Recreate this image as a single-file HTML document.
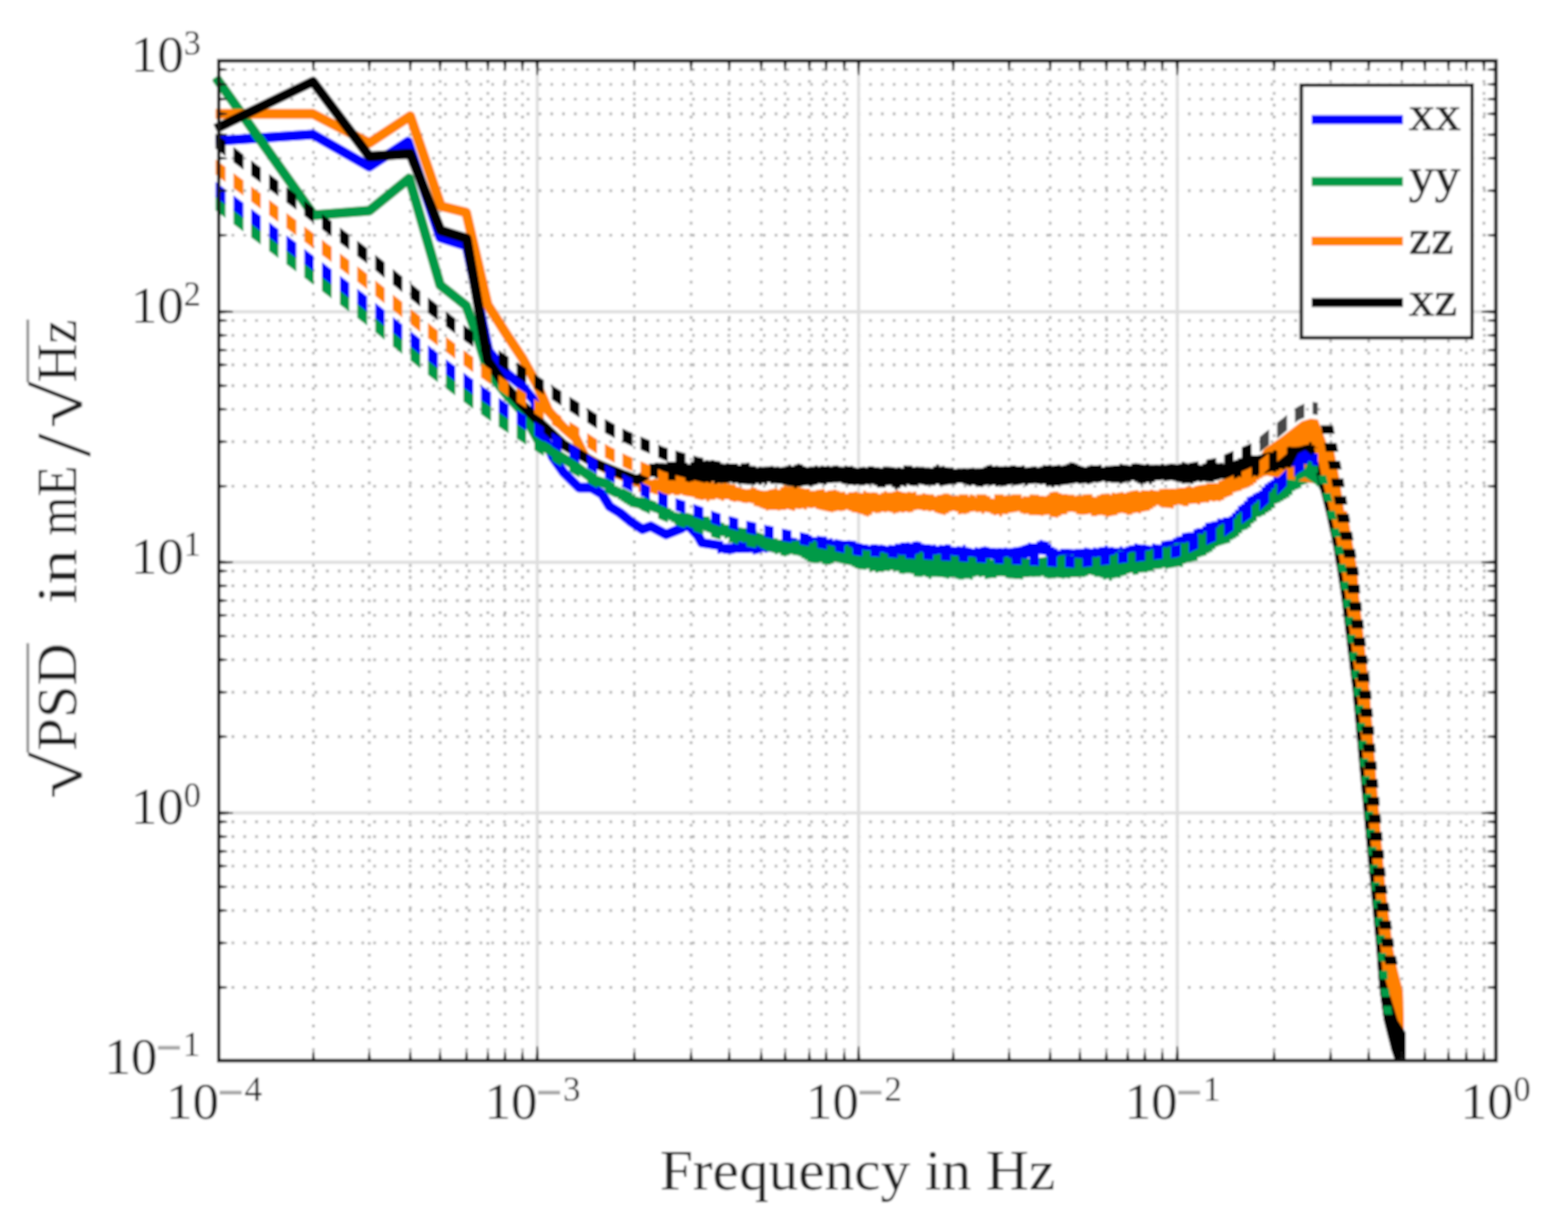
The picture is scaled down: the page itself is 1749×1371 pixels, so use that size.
<!DOCTYPE html>
<html lang="en">
<head>
<meta charset="utf-8">
<title>PSD plot</title>
<style>
html,body{margin:0;padding:0;background:#fff;}
body{width:1749px;height:1371px;overflow:hidden;font-family:"Liberation Serif",serif;}
svg{display:block;}
</style>
</head>
<body>
<svg width="1749" height="1371" viewBox="0 0 1749 1371">
<defs><filter id="bl" x="0" y="0" width="1749" height="1371" filterUnits="userSpaceOnUse"><feGaussianBlur stdDeviation="0.95"/></filter></defs>
<rect width="1749" height="1371" fill="#fff"/>
<g filter="url(#bl)">
<rect width="1749" height="1371" fill="#fff"/>
<g stroke="#aaaaaa" stroke-width="2.9" stroke-dasharray="2.9 10.27" fill="none">
<path d="M349.6 76.3V1183.2M411.9 76.3V1183.2M457.7 76.3V1183.2M490.9 76.3V1183.2M520.4 76.3V1183.2M544.2 76.3V1183.2M563.3 76.3V1183.2M582.8 76.3V1183.2M707.6 76.3V1183.2M770.9 76.3V1183.2M813.4 76.3V1183.2M849.1 76.3V1183.2M875.8 76.3V1183.2M902.8 76.3V1183.2M921.5 76.3V1183.2M941.8 76.3V1183.2M1063.3 76.3V1183.2M1125.6 76.3V1183.2M1171.4 76.3V1183.2M1204.6 76.3V1183.2M1234.1 76.3V1183.2M1257.9 76.3V1183.2M1277.0 76.3V1183.2M1296.5 76.3V1183.2M1421.2 76.3V1183.2M1484.2 76.3V1183.2M1526.7 76.3V1183.2M1563.7 76.3V1183.2M1589.3 76.3V1183.2M1615.7 76.3V1183.2M1635.6 76.3V1183.2M1655.2 76.3V1183.2"/>
<path d="M245.2 262.4H1668.6M245.2 212.8H1668.6M245.2 176.6H1668.6M245.2 150.2H1668.6M245.2 127.0H1668.6M245.2 110.6H1668.6M245.2 94.1H1668.6M245.2 77.6H1668.6M245.2 542.4H1668.6M245.2 492.8H1668.6M245.2 456.6H1668.6M245.2 430.2H1668.6M245.2 407.0H1668.6M245.2 390.6H1668.6M245.2 374.1H1668.6M245.2 357.6H1668.6M245.2 821.8H1668.6M245.2 772.2H1668.6M245.2 736.0H1668.6M245.2 709.6H1668.6M245.2 686.4H1668.6M245.2 670.0H1668.6M245.2 653.5H1668.6M245.2 637.0H1668.6M245.2 1101.5H1668.6M245.2 1051.9H1668.6M245.2 1015.7H1668.6M245.2 989.3H1668.6M245.2 966.1H1668.6M245.2 949.7H1668.6M245.2 933.2H1668.6M245.2 916.7H1668.6"/>
</g>
<path d="M599.3 67.8V1183.2M957.7 67.8V1183.2M1313.2 67.8V1183.2M244.0 347.8H1668.6M244.0 627.2H1668.6M244.0 906.9H1668.6" stroke="#dedede" stroke-width="3.4" fill="none"/>
<clipPath id="clip"><rect x="237.0" y="67.8" width="1431.6" height="1116.4"/></clipPath>
<g clip-path="url(#clip)">
<path d="M240.5 157.2L349.0 150.0L412.0 186.0L455.0 158.0L491.0 265.0L520.4 274.4L545.0 391.5L565.8 417.0L583.0 431.0L596.6 448.0L602.9 477.0L616.6 509.8L628.6 527.0L645.8 544.0L659.5 544.0L671.5 551.0L680.0 565.0L691.5 572.0L703.0 581.4L716.7 590.6L725.8 587.0L743.0 596.3L760.0 589.4L767.0 585.0L778.5 597.5L783.0 605.5L806.0 609.0" fill="none" stroke="#0000ff" stroke-width="10.8" stroke-linejoin="round"/>
<path d="M800.0 605.9L803.3 605.9L803.3 605.7L806.6 605.7L806.6 606.6L809.9 606.6L809.9 606.4L813.2 606.4L813.2 606.5L816.5 606.5L816.5 605.0L819.8 605.0L819.8 603.5L823.1 603.5L823.1 603.8L826.4 603.8L826.4 604.2L829.7 604.2L829.7 604.4L833.0 604.4L833.0 604.5L836.3 604.5L836.3 604.1L839.6 604.1L839.6 603.7L842.9 603.7L842.9 604.2L846.2 604.2L846.2 605.2L849.5 605.2L849.5 606.2L852.8 606.2L852.8 604.5L856.1 604.5L856.1 603.6L859.4 603.6L859.4 603.3L862.7 603.3L862.7 602.5L866.0 602.5L866.0 602.4L869.3 602.4L869.3 602.1L872.6 602.1L872.6 602.6L875.9 602.6L875.9 601.3L879.2 601.3L879.2 599.8L882.5 599.8L882.5 599.8L885.8 599.8L885.8 599.9L889.1 599.9L889.1 601.7L892.4 601.7L892.4 600.1L895.7 600.1L895.7 599.2L899.0 599.2L899.0 596.3L902.3 596.3L902.3 597.1L905.6 597.1L905.6 598.9L908.9 598.9L908.9 599.1L912.2 599.1L912.2 599.6L915.5 599.6L915.5 599.4L918.8 599.4L918.8 598.4L922.1 598.4L922.1 601.2L925.4 601.2L925.4 600.6L928.7 600.6L928.7 602.4L932.0 602.4L932.0 603.1L935.3 603.1L935.3 604.2L938.6 604.2L938.6 603.7L941.9 603.7L941.9 603.1L945.2 603.1L945.2 602.8L948.5 602.8L948.5 603.1L951.8 603.1L951.8 603.5L955.1 603.5L955.1 605.5L958.4 605.5L958.4 605.9L961.7 605.9L961.7 607.0L965.0 607.0L965.0 607.3L968.3 607.3L968.3 608.6L971.6 608.6L971.6 607.6L974.9 607.6L974.9 606.9L978.2 606.9L978.2 608.4L981.5 608.4L981.5 607.5L984.8 607.5L984.8 607.9L988.1 607.9L988.1 608.9L991.4 608.9L991.4 607.8L994.7 607.8L994.7 608.0L998.0 608.0L998.0 606.6L1001.3 606.6L1001.3 606.6L1004.6 606.6L1004.6 605.1L1007.9 605.1L1007.9 605.2L1011.2 605.2L1011.2 604.8L1014.5 604.8L1014.5 605.8L1017.8 605.8L1017.8 603.9L1021.1 603.9L1021.1 603.7L1024.4 603.7L1024.4 604.4L1027.7 604.4L1027.7 606.5L1031.0 606.5L1031.0 607.1L1034.3 607.1L1034.3 607.0L1037.6 607.0L1037.6 607.7L1040.9 607.7L1040.9 607.4L1044.2 607.4L1044.2 609.0L1047.5 609.0L1047.5 607.8L1050.8 607.8L1050.8 608.0L1054.1 608.0L1054.1 607.1L1057.4 607.1L1057.4 607.5L1060.7 607.5L1060.7 609.7L1064.0 609.7L1064.0 609.9L1067.3 609.9L1067.3 609.2L1070.6 609.2L1070.6 609.7L1073.9 609.7L1073.9 607.8L1077.2 607.8L1077.2 610.6L1080.5 610.6L1080.5 611.1L1083.8 611.1L1083.8 612.1L1087.1 612.1L1087.1 610.5L1090.4 610.5L1090.4 611.2L1093.7 611.2L1093.7 610.0L1097.0 610.0L1097.0 609.5L1100.3 609.5L1100.3 610.3L1103.6 610.3L1103.6 611.3L1106.9 611.3L1106.9 611.3L1110.2 611.3L1110.2 611.6L1113.5 611.6L1113.5 611.0L1116.8 611.0L1116.8 611.4L1120.1 611.4L1120.1 610.8L1123.4 610.8L1123.4 611.5L1126.7 611.5L1126.7 611.2L1130.0 611.2L1130.0 610.6L1133.3 610.6L1133.3 610.3L1136.6 610.3L1136.6 609.6L1139.9 609.6L1139.9 608.3L1143.2 608.3L1143.2 607.3L1146.5 607.3L1146.5 605.4L1149.8 605.4L1149.8 606.0L1153.1 606.0L1153.1 606.0L1156.4 606.0L1156.4 603.7L1159.7 603.7L1159.7 602.2L1163.0 602.2L1163.0 603.5L1166.3 603.5L1166.3 604.0L1169.6 604.0L1169.6 606.7L1172.9 606.7L1172.9 610.0L1176.2 610.0L1176.2 611.8L1179.5 611.8L1179.5 613.7L1182.8 613.7L1182.8 612.1L1186.1 612.1L1186.1 612.3L1189.4 612.3L1189.4 612.0L1192.7 612.0L1192.7 612.4L1196.0 612.4L1196.0 612.8L1199.3 612.8L1199.3 612.2L1202.6 612.2L1202.6 612.3L1205.9 612.3L1205.9 611.9L1209.2 611.9L1209.2 610.8L1212.5 610.8L1212.5 611.6L1215.8 611.6L1215.8 611.9L1219.1 611.9L1219.1 610.7L1222.4 610.7L1222.4 611.4L1225.7 611.4L1225.7 610.3L1229.0 610.3L1229.0 610.0L1232.3 610.0L1232.3 608.4L1235.6 608.4L1235.6 610.6L1238.9 610.6L1238.9 610.1L1242.2 610.1L1242.2 610.9L1245.5 610.9L1245.5 611.0L1248.8 611.0L1248.8 609.6L1252.1 609.6L1252.1 611.0L1255.4 611.0L1255.4 609.8L1258.7 609.8L1258.7 608.4L1262.0 608.4L1262.0 608.2L1265.3 608.2L1265.3 606.1L1268.6 606.1L1268.6 607.0L1271.9 607.0L1271.9 607.6L1275.2 607.6L1275.2 607.3L1278.5 607.3L1278.5 608.3L1281.8 608.3L1281.8 608.7L1285.1 608.7L1285.1 606.3L1288.4 606.3L1288.4 607.2L1291.7 607.2L1291.7 607.5L1295.0 607.5L1295.0 604.5L1298.3 604.5L1298.3 603.3L1301.6 603.3L1301.6 602.8L1304.9 602.8L1304.9 602.4L1308.2 602.4L1308.2 600.6L1311.5 600.6L1311.5 598.7L1314.8 598.7L1314.8 597.9L1318.1 597.9L1318.1 594.8L1321.4 594.8L1321.4 594.3L1324.7 594.3L1324.7 593.8L1328.0 593.8L1328.0 593.8L1331.3 593.8L1331.3 590.5L1334.6 590.5L1334.6 589.1L1337.9 589.1L1337.9 589.2L1341.2 589.2L1341.2 586.7L1344.5 586.7L1344.5 583.1L1347.8 583.1L1347.8 582.7L1351.1 582.7L1351.1 581.7L1354.4 581.7L1354.4 581.4L1357.7 581.4L1357.7 578.4L1361.0 578.4L1361.0 578.7L1364.3 578.7L1364.3 577.0L1367.6 577.0L1367.6 576.9L1370.9 576.9L1370.9 575.6L1374.2 575.6L1374.2 572.0L1377.5 572.0L1377.5 568.7L1380.8 568.7L1380.8 564.3L1384.1 564.3L1384.1 562.1L1387.4 562.1L1387.4 558.8L1390.7 558.8L1390.7 554.6L1394.0 554.6L1394.0 553.1L1397.3 553.1L1397.3 550.7L1400.6 550.7L1400.6 548.9L1403.9 548.9L1403.9 547.3L1407.2 547.3L1407.2 543.3L1410.5 543.3L1410.5 539.8L1413.8 539.8L1413.8 537.4L1417.1 537.4L1417.1 535.5L1420.4 535.5L1420.4 531.5L1423.7 531.5L1423.7 529.8L1427.0 529.8L1427.0 526.9L1430.3 526.9L1430.3 525.8L1433.6 525.8L1433.6 520.8L1436.9 520.8L1436.9 516.0L1440.2 516.0L1440.2 513.3L1443.5 513.3L1443.5 510.2L1446.8 510.2L1446.8 508.1L1450.1 508.1L1450.1 504.6L1453.4 504.6L1453.4 501.5L1456.7 501.5L1456.7 503.9L1460.0 503.9L1460.0 505.5L1463.3 505.5L1463.3 506.1L1466.6 506.1L1466.6 506.3L1469.9 506.3L1469.9 507.3L1470.0 507.3L1470.0 523.6L1469.9 523.6L1469.9 522.8L1466.6 522.8L1466.6 523.2L1463.3 523.2L1463.3 522.4L1460.0 522.4L1460.0 520.9L1456.7 520.9L1456.7 519.1L1453.4 519.1L1453.4 521.4L1450.1 521.4L1450.1 525.3L1446.8 525.3L1446.8 526.7L1443.5 526.7L1443.5 531.2L1440.2 531.2L1440.2 534.1L1436.9 534.1L1436.9 537.4L1433.6 537.4L1433.6 541.0L1430.3 541.0L1430.3 543.2L1427.0 543.2L1427.0 546.8L1423.7 546.8L1423.7 549.9L1420.4 549.9L1420.4 552.5L1417.1 552.5L1417.1 555.7L1413.8 555.7L1413.8 558.2L1410.5 558.2L1410.5 560.1L1407.2 560.1L1407.2 561.9L1403.9 561.9L1403.9 564.9L1400.6 564.9L1400.6 569.4L1397.3 569.4L1397.3 571.5L1394.0 571.5L1394.0 574.7L1390.7 574.7L1390.7 575.4L1387.4 575.4L1387.4 577.2L1384.1 577.2L1384.1 581.0L1380.8 581.0L1380.8 581.9L1377.5 581.9L1377.5 582.4L1374.2 582.4L1374.2 585.8L1370.9 585.8L1370.9 586.7L1367.6 586.7L1367.6 589.7L1364.3 589.7L1364.3 592.2L1361.0 592.2L1361.0 594.5L1357.7 594.5L1357.7 595.5L1354.4 595.5L1354.4 596.7L1351.1 596.7L1351.1 598.4L1347.8 598.4L1347.8 599.2L1344.5 599.2L1344.5 601.9L1341.2 601.9L1341.2 604.3L1337.9 604.3L1337.9 606.3L1334.6 606.3L1334.6 607.9L1331.3 607.9L1331.3 609.6L1328.0 609.6L1328.0 611.0L1324.7 611.0L1324.7 613.7L1321.4 613.7L1321.4 613.3L1318.1 613.3L1318.1 612.7L1314.8 612.7L1314.8 613.5L1311.5 613.5L1311.5 614.4L1308.2 614.4L1308.2 614.9L1304.9 614.9L1304.9 615.1L1301.6 615.1L1301.6 615.9L1298.3 615.9L1298.3 617.6L1295.0 617.6L1295.0 619.2L1291.7 619.2L1291.7 619.0L1288.4 619.0L1288.4 621.3L1285.1 621.3L1285.1 623.2L1281.8 623.2L1281.8 624.8L1278.5 624.8L1278.5 625.1L1275.2 625.1L1275.2 624.0L1271.9 624.0L1271.9 623.5L1268.6 623.5L1268.6 623.7L1265.3 623.7L1265.3 623.2L1262.0 623.2L1262.0 622.7L1258.7 622.7L1258.7 622.8L1255.4 622.8L1255.4 623.7L1252.1 623.7L1252.1 623.5L1248.8 623.5L1248.8 624.9L1245.5 624.9L1245.5 625.8L1242.2 625.8L1242.2 625.7L1238.9 625.7L1238.9 627.4L1235.6 627.4L1235.6 627.2L1232.3 627.2L1232.3 627.7L1229.0 627.7L1229.0 626.5L1225.7 626.5L1225.7 628.0L1222.4 628.0L1222.4 627.1L1219.1 627.1L1219.1 627.5L1215.8 627.5L1215.8 626.2L1212.5 626.2L1212.5 627.7L1209.2 627.7L1209.2 627.1L1205.9 627.1L1205.9 627.5L1202.6 627.5L1202.6 628.0L1199.3 628.0L1199.3 628.9L1196.0 628.9L1196.0 628.0L1192.7 628.0L1192.7 626.9L1189.4 626.9L1189.4 625.5L1186.1 625.5L1186.1 623.2L1182.8 623.2L1182.8 623.4L1179.5 623.4L1179.5 623.0L1176.2 623.0L1176.2 622.6L1172.9 622.6L1172.9 622.8L1169.6 622.8L1169.6 620.8L1166.3 620.8L1166.3 618.9L1163.0 618.9L1163.0 618.5L1159.7 618.5L1159.7 618.2L1156.4 618.2L1156.4 621.0L1153.1 621.0L1153.1 621.7L1149.8 621.7L1149.8 621.7L1146.5 621.7L1146.5 623.8L1143.2 623.8L1143.2 624.9L1139.9 624.9L1139.9 624.5L1136.6 624.5L1136.6 625.2L1133.3 625.2L1133.3 627.0L1130.0 627.0L1130.0 625.3L1126.7 625.3L1126.7 625.7L1123.4 625.7L1123.4 627.0L1120.1 627.0L1120.1 626.9L1116.8 626.9L1116.8 624.3L1113.5 624.3L1113.5 625.0L1110.2 625.0L1110.2 624.8L1106.9 624.8L1106.9 623.4L1103.6 623.4L1103.6 624.2L1100.3 624.2L1100.3 623.6L1097.0 623.6L1097.0 626.0L1093.7 626.0L1093.7 627.2L1090.4 627.2L1090.4 627.3L1087.1 627.3L1087.1 628.3L1083.8 628.3L1083.8 627.7L1080.5 627.7L1080.5 628.6L1077.2 628.6L1077.2 629.6L1073.9 629.6L1073.9 627.0L1070.6 627.0L1070.6 628.2L1067.3 628.2L1067.3 630.3L1064.0 630.3L1064.0 627.0L1060.7 627.0L1060.7 626.9L1057.4 626.9L1057.4 626.6L1054.1 626.6L1054.1 624.6L1050.8 624.6L1050.8 623.5L1047.5 623.5L1047.5 623.8L1044.2 623.8L1044.2 624.4L1040.9 624.4L1040.9 624.4L1037.6 624.4L1037.6 625.3L1034.3 625.3L1034.3 624.8L1031.0 624.8L1031.0 625.5L1027.7 625.5L1027.7 626.5L1024.4 626.5L1024.4 625.5L1021.1 625.5L1021.1 625.0L1017.8 625.0L1017.8 626.0L1014.5 626.0L1014.5 624.8L1011.2 624.8L1011.2 624.7L1007.9 624.7L1007.9 623.6L1004.6 623.6L1004.6 626.3L1001.3 626.3L1001.3 625.5L998.0 625.5L998.0 624.7L994.7 624.7L994.7 622.4L991.4 622.4L991.4 622.6L988.1 622.6L988.1 623.2L984.8 623.2L984.8 624.9L981.5 624.9L981.5 625.5L978.2 625.5L978.2 624.9L974.9 624.9L974.9 625.3L971.6 625.3L971.6 623.8L968.3 623.8L968.3 622.6L965.0 622.6L965.0 623.5L961.7 623.5L961.7 621.1L958.4 621.1L958.4 621.7L955.1 621.7L955.1 620.3L951.8 620.3L951.8 619.6L948.5 619.6L948.5 621.5L945.2 621.5L945.2 622.3L941.9 622.3L941.9 622.5L938.6 622.5L938.6 623.8L935.3 623.8L935.3 622.7L932.0 622.7L932.0 621.9L928.7 621.9L928.7 623.4L925.4 623.4L925.4 622.0L922.1 622.0L922.1 619.7L918.8 619.7L918.8 617.7L915.5 617.7L915.5 619.6L912.2 619.6L912.2 619.6L908.9 619.6L908.9 617.5L905.6 617.5L905.6 617.1L902.3 617.1L902.3 616.2L899.0 616.2L899.0 615.8L895.7 615.8L895.7 616.5L892.4 616.5L892.4 616.9L889.1 616.9L889.1 615.7L885.8 615.7L885.8 615.7L882.5 615.7L882.5 616.1L879.2 616.1L879.2 615.7L875.9 615.7L875.9 617.3L872.6 617.3L872.6 616.3L869.3 616.3L869.3 615.6L866.0 615.6L866.0 616.3L862.7 616.3L862.7 615.5L859.4 615.5L859.4 615.6L856.1 615.6L856.1 616.4L852.8 616.4L852.8 615.6L849.5 615.6L849.5 616.7L846.2 616.7L846.2 618.1L842.9 618.1L842.9 618.4L839.6 618.4L839.6 616.5L836.3 616.5L836.3 616.8L833.0 616.8L833.0 616.8L829.7 616.8L829.7 616.8L826.4 616.8L826.4 616.9L823.1 616.9L823.1 616.7L819.8 616.7L819.8 617.5L816.5 617.5L816.5 618.3L813.2 618.3L813.2 617.9L809.9 617.9L809.9 617.7L806.6 617.7L806.6 616.8L803.3 616.8L803.3 617.4L800.0 617.4Z" fill="#0000ff"/>
<path d="M240.5 86.1L350.0 240.0L412.0 235.0L456.4 199.0L491.0 318.0L520.0 341.0L532.0 374.0L540.0 400.0L545.0 415.0L565.0 440.0L583.0 460.0L603.0 496.0L620.0 506.0L642.3 520.0L663.0 535.5L680.0 541.0" fill="none" stroke="#009a46" stroke-width="10.8" stroke-linejoin="round"/>
<path d="M676.0 536.6L679.3 536.6L679.3 537.6L682.6 537.6L682.6 539.7L685.9 539.7L685.9 542.3L689.2 542.3L689.2 543.8L692.5 543.8L692.5 545.6L695.8 545.6L695.8 548.5L699.1 548.5L699.1 550.9L702.4 550.9L702.4 552.1L705.7 552.1L705.7 552.5L709.0 552.5L709.0 553.9L712.3 553.9L712.3 554.9L715.6 554.9L715.6 555.3L718.9 555.3L718.9 555.0L722.2 555.0L722.2 555.9L725.5 555.9L725.5 557.9L728.8 557.9L728.8 559.3L732.1 559.3L732.1 561.3L735.4 561.3L735.4 563.1L738.7 563.1L738.7 565.0L742.0 565.0L742.0 565.6L745.3 565.6L745.3 567.2L748.6 567.2L748.6 569.6L751.9 569.6L751.9 571.6L755.2 571.6L755.2 572.5L758.5 572.5L758.5 571.7L761.8 571.7L761.8 572.5L765.1 572.5L765.1 572.2L768.4 572.2L768.4 573.1L771.7 573.1L771.7 574.3L775.0 574.3L775.0 575.1L778.3 575.1L778.3 575.3L781.6 575.3L781.6 575.8L784.9 575.8L784.9 576.0L788.2 576.0L788.2 576.2L791.5 576.2L791.5 579.3L794.8 579.3L794.8 579.7L798.1 579.7L798.1 581.4L801.4 581.4L801.4 582.5L804.7 582.5L804.7 583.3L808.0 583.3L808.0 585.3L811.3 585.3L811.3 585.5L814.6 585.5L814.6 586.4L817.9 586.4L817.9 587.2L821.2 587.2L821.2 588.3L824.5 588.3L824.5 588.4L827.8 588.4L827.8 589.1L831.1 589.1L831.1 589.2L834.4 589.2L834.4 588.3L837.7 588.3L837.7 590.3L841.0 590.3L841.0 591.5L844.3 591.5L844.3 594.1L847.6 594.1L847.6 594.9L850.9 594.9L850.9 596.6L854.2 596.6L854.2 596.8L857.5 596.8L857.5 599.0L860.8 599.0L860.8 600.4L864.1 600.4L864.1 600.6L867.4 600.6L867.4 602.1L870.7 602.1L870.7 602.5L874.0 602.5L874.0 604.3L877.3 604.3L877.3 602.9L880.6 602.9L880.6 602.9L883.9 602.9L883.9 603.5L887.2 603.5L887.2 603.1L890.5 603.1L890.5 603.5L893.8 603.5L893.8 605.7L897.1 605.7L897.1 605.9L900.4 605.9L900.4 605.3L903.7 605.3L903.7 605.2L907.0 605.2L907.0 602.9L910.3 602.9L910.3 605.1L913.6 605.1L913.6 604.9L916.9 604.9L916.9 607.0L920.2 607.0L920.2 607.2L923.5 607.2L923.5 608.3L926.8 608.3L926.8 608.9L930.1 608.9L930.1 609.5L933.4 609.5L933.4 606.9L936.7 606.9L936.7 607.7L940.0 607.7L940.0 608.9L943.3 608.9L943.3 608.1L946.6 608.1L946.6 610.3L949.9 610.3L949.9 611.4L953.2 611.4L953.2 612.1L956.5 612.1L956.5 612.7L959.8 612.7L959.8 612.8L963.1 612.8L963.1 613.8L966.4 613.8L966.4 613.9L969.7 613.9L969.7 613.7L973.0 613.7L973.0 613.5L976.3 613.5L976.3 612.8L979.6 612.8L979.6 616.2L982.9 616.2L982.9 616.0L986.2 616.0L986.2 617.3L989.5 617.3L989.5 617.9L992.8 617.9L992.8 616.7L996.1 616.7L996.1 616.7L999.4 616.7L999.4 618.0L1002.7 618.0L1002.7 619.3L1006.0 619.3L1006.0 619.2L1009.3 619.2L1009.3 619.1L1012.6 619.1L1012.6 618.5L1015.9 618.5L1015.9 618.7L1019.2 618.7L1019.2 618.6L1022.5 618.6L1022.5 617.6L1025.8 617.6L1025.8 615.4L1029.1 615.4L1029.1 616.8L1032.4 616.8L1032.4 617.0L1035.7 617.0L1035.7 617.9L1039.0 617.9L1039.0 618.7L1042.3 618.7L1042.3 618.8L1045.6 618.8L1045.6 618.0L1048.9 618.0L1048.9 617.7L1052.2 617.7L1052.2 617.9L1055.5 617.9L1055.5 619.1L1058.8 619.1L1058.8 619.1L1062.1 619.1L1062.1 620.1L1065.4 620.1L1065.4 620.1L1068.7 620.1L1068.7 621.2L1072.0 621.2L1072.0 620.5L1075.3 620.5L1075.3 619.2L1078.6 619.2L1078.6 620.9L1081.9 620.9L1081.9 621.1L1085.2 621.1L1085.2 621.4L1088.5 621.4L1088.5 623.0L1091.8 623.0L1091.8 622.7L1095.1 622.7L1095.1 622.4L1098.4 622.4L1098.4 622.8L1101.7 622.8L1101.7 622.7L1105.0 622.7L1105.0 624.4L1108.3 624.4L1108.3 624.1L1111.6 624.1L1111.6 624.4L1114.9 624.4L1114.9 623.2L1118.2 623.2L1118.2 621.7L1121.5 621.7L1121.5 621.1L1124.8 621.1L1124.8 622.5L1128.1 622.5L1128.1 623.9L1131.4 623.9L1131.4 623.9L1134.7 623.9L1134.7 624.1L1138.0 624.1L1138.0 622.8L1141.3 622.8L1141.3 623.4L1144.6 623.4L1144.6 622.9L1147.9 622.9L1147.9 623.8L1151.2 623.8L1151.2 623.9L1154.5 623.9L1154.5 622.0L1157.8 622.0L1157.8 622.1L1161.1 622.1L1161.1 621.8L1164.4 621.8L1164.4 621.2L1167.7 621.2L1167.7 621.3L1171.0 621.3L1171.0 622.6L1174.3 622.6L1174.3 620.4L1177.6 620.4L1177.6 621.0L1180.9 621.0L1180.9 619.6L1184.2 619.6L1184.2 619.2L1187.5 619.2L1187.5 618.8L1190.8 618.8L1190.8 620.2L1194.1 620.2L1194.1 618.8L1197.4 618.8L1197.4 622.2L1200.7 622.2L1200.7 622.4L1204.0 622.4L1204.0 622.7L1207.3 622.7L1207.3 623.2L1210.6 623.2L1210.6 622.1L1213.9 622.1L1213.9 622.4L1217.2 622.4L1217.2 621.2L1220.5 621.2L1220.5 621.8L1223.8 621.8L1223.8 620.9L1227.1 620.9L1227.1 621.5L1230.4 621.5L1230.4 622.7L1233.7 622.7L1233.7 621.2L1237.0 621.2L1237.0 619.4L1240.3 619.4L1240.3 619.1L1243.6 619.1L1243.6 616.8L1246.9 616.8L1246.9 613.9L1250.2 613.9L1250.2 613.8L1253.5 613.8L1253.5 615.9L1256.8 615.9L1256.8 617.0L1260.1 617.0L1260.1 615.7L1263.4 615.7L1263.4 615.5L1266.7 615.5L1266.7 616.1L1270.0 616.1L1270.0 616.3L1273.3 616.3L1273.3 614.4L1276.6 614.4L1276.6 614.3L1279.9 614.3L1279.9 613.9L1283.2 613.9L1283.2 612.3L1286.5 612.3L1286.5 612.2L1289.8 612.2L1289.8 612.5L1293.1 612.5L1293.1 611.0L1296.4 611.0L1296.4 610.2L1299.7 610.2L1299.7 610.5L1303.0 610.5L1303.0 609.5L1306.3 609.5L1306.3 608.1L1309.6 608.1L1309.6 606.1L1312.9 606.1L1312.9 606.0L1316.2 606.0L1316.2 605.6L1319.5 605.6L1319.5 605.7L1322.8 605.7L1322.8 604.4L1326.1 604.4L1326.1 603.2L1329.4 603.2L1329.4 600.7L1332.7 600.7L1332.7 599.0L1336.0 599.0L1336.0 595.4L1339.3 595.4L1339.3 595.8L1342.6 595.8L1342.6 592.9L1345.9 592.9L1345.9 594.8L1349.2 594.8L1349.2 592.0L1352.5 592.0L1352.5 591.5L1355.8 591.5L1355.8 588.6L1359.1 588.6L1359.1 585.8L1362.4 585.8L1362.4 584.2L1365.7 584.2L1365.7 583.5L1369.0 583.5L1369.0 582.9L1372.3 582.9L1372.3 580.5L1375.6 580.5L1375.6 578.3L1378.9 578.3L1378.9 573.9L1382.2 573.9L1382.2 571.3L1385.5 571.3L1385.5 568.4L1388.8 568.4L1388.8 566.8L1392.1 566.8L1392.1 565.8L1395.4 565.8L1395.4 563.4L1398.7 563.4L1398.7 560.9L1402.0 560.9L1402.0 558.1L1405.3 558.1L1405.3 555.7L1408.6 555.7L1408.6 553.2L1411.9 553.2L1411.9 551.3L1415.2 551.3L1415.2 548.8L1418.5 548.8L1418.5 544.9L1421.8 544.9L1421.8 540.0L1425.1 540.0L1425.1 538.8L1428.4 538.8L1428.4 536.0L1431.7 536.0L1431.7 532.8L1435.0 532.8L1435.0 531.8L1438.3 531.8L1438.3 527.2L1441.6 527.2L1441.6 523.0L1444.9 523.0L1444.9 518.8L1448.2 518.8L1448.2 516.9L1451.5 516.9L1451.5 515.1L1454.8 515.1L1454.8 513.0L1458.1 513.0L1458.1 509.3L1461.4 509.3L1461.4 508.6L1464.7 508.6L1464.7 512.3L1468.0 512.3L1468.0 516.5L1471.3 516.5L1471.3 516.2L1474.0 516.2L1474.0 545.5L1471.3 545.5L1471.3 542.2L1468.0 542.2L1468.0 538.7L1464.7 538.7L1464.7 537.7L1461.4 537.7L1461.4 538.5L1458.1 538.5L1458.1 539.9L1454.8 539.9L1454.8 541.1L1451.5 541.1L1451.5 544.5L1448.2 544.5L1448.2 546.0L1444.9 546.0L1444.9 547.6L1441.6 547.6L1441.6 552.2L1438.3 552.2L1438.3 555.3L1435.0 555.3L1435.0 557.1L1431.7 557.1L1431.7 558.9L1428.4 558.9L1428.4 560.8L1425.1 560.8L1425.1 562.0L1421.8 562.0L1421.8 566.9L1418.5 566.9L1418.5 569.9L1415.2 569.9L1415.2 571.9L1411.9 571.9L1411.9 574.4L1408.6 574.4L1408.6 575.2L1405.3 575.2L1405.3 576.7L1402.0 576.7L1402.0 581.4L1398.7 581.4L1398.7 583.9L1395.4 583.9L1395.4 588.6L1392.1 588.6L1392.1 590.4L1388.8 590.4L1388.8 591.5L1385.5 591.5L1385.5 594.9L1382.2 594.9L1382.2 598.6L1378.9 598.6L1378.9 600.5L1375.6 600.5L1375.6 602.2L1372.3 602.2L1372.3 605.7L1369.0 605.7L1369.0 606.4L1365.7 606.4L1365.7 607.4L1362.4 607.4L1362.4 608.5L1359.1 608.5L1359.1 609.7L1355.8 609.7L1355.8 612.5L1352.5 612.5L1352.5 615.4L1349.2 615.4L1349.2 617.3L1345.9 617.3L1345.9 619.8L1342.6 619.8L1342.6 620.5L1339.3 620.5L1339.3 621.7L1336.0 621.7L1336.0 625.5L1332.7 625.5L1332.7 626.3L1329.4 626.3L1329.4 627.3L1326.1 627.3L1326.1 627.6L1322.8 627.6L1322.8 629.1L1319.5 629.1L1319.5 632.6L1316.2 632.6L1316.2 631.9L1312.9 631.9L1312.9 632.6L1309.6 632.6L1309.6 633.3L1306.3 633.3L1306.3 633.8L1303.0 633.8L1303.0 634.6L1299.7 634.6L1299.7 633.3L1296.4 633.3L1296.4 634.6L1293.1 634.6L1293.1 634.7L1289.8 634.7L1289.8 634.8L1286.5 634.8L1286.5 637.3L1283.2 637.3L1283.2 637.6L1279.9 637.6L1279.9 638.8L1276.6 638.8L1276.6 638.6L1273.3 638.6L1273.3 638.7L1270.0 638.7L1270.0 640.9L1266.7 640.9L1266.7 641.2L1263.4 641.2L1263.4 639.1L1260.1 639.1L1260.1 640.0L1256.8 640.0L1256.8 641.8L1253.5 641.8L1253.5 642.6L1250.2 642.6L1250.2 644.8L1246.9 644.8L1246.9 644.6L1243.6 644.6L1243.6 645.3L1240.3 645.3L1240.3 647.9L1237.0 647.9L1237.0 645.6L1233.7 645.6L1233.7 646.4L1230.4 646.4L1230.4 644.4L1227.1 644.4L1227.1 643.4L1223.8 643.4L1223.8 643.4L1220.5 643.4L1220.5 641.8L1217.2 641.8L1217.2 640.9L1213.9 640.9L1213.9 642.4L1210.6 642.4L1210.6 643.7L1207.3 643.7L1207.3 643.5L1204.0 643.5L1204.0 643.9L1200.7 643.9L1200.7 644.0L1197.4 644.0L1197.4 643.9L1194.1 643.9L1194.1 645.3L1190.8 645.3L1190.8 644.7L1187.5 644.7L1187.5 645.4L1184.2 645.4L1184.2 644.9L1180.9 644.9L1180.9 644.6L1177.6 644.6L1177.6 645.3L1174.3 645.3L1174.3 645.3L1171.0 645.3L1171.0 645.6L1167.7 645.6L1167.7 644.4L1164.4 644.4L1164.4 642.6L1161.1 642.6L1161.1 643.6L1157.8 643.6L1157.8 643.4L1154.5 643.4L1154.5 643.8L1151.2 643.8L1151.2 643.4L1147.9 643.4L1147.9 643.9L1144.6 643.9L1144.6 643.9L1141.3 643.9L1141.3 646.3L1138.0 646.3L1138.0 646.0L1134.7 646.0L1134.7 645.9L1131.4 645.9L1131.4 645.5L1128.1 645.5L1128.1 645.2L1124.8 645.2L1124.8 644.8L1121.5 644.8L1121.5 642.9L1118.2 642.9L1118.2 642.7L1114.9 642.7L1114.9 643.0L1111.6 643.0L1111.6 645.1L1108.3 645.1L1108.3 644.7L1105.0 644.7L1105.0 645.3L1101.7 645.3L1101.7 646.0L1098.4 646.0L1098.4 643.1L1095.1 643.1L1095.1 644.0L1091.8 644.0L1091.8 642.6L1088.5 642.6L1088.5 643.4L1085.2 643.4L1085.2 646.6L1081.9 646.6L1081.9 645.6L1078.6 645.6L1078.6 645.6L1075.3 645.6L1075.3 646.4L1072.0 646.4L1072.0 646.4L1068.7 646.4L1068.7 645.5L1065.4 645.5L1065.4 643.8L1062.1 643.8L1062.1 644.2L1058.8 644.2L1058.8 645.5L1055.5 645.5L1055.5 644.5L1052.2 644.5L1052.2 644.1L1048.9 644.1L1048.9 643.8L1045.6 643.8L1045.6 643.6L1042.3 643.6L1042.3 643.6L1039.0 643.6L1039.0 645.7L1035.7 645.7L1035.7 644.1L1032.4 644.1L1032.4 642.6L1029.1 642.6L1029.1 643.5L1025.8 643.5L1025.8 643.5L1022.5 643.5L1022.5 643.3L1019.2 643.3L1019.2 640.3L1015.9 640.3L1015.9 639.6L1012.6 639.6L1012.6 639.5L1009.3 639.5L1009.3 640.3L1006.0 640.3L1006.0 640.1L1002.7 640.1L1002.7 637.3L999.4 637.3L999.4 637.3L996.1 637.3L996.1 635.9L992.8 635.9L992.8 637.3L989.5 637.3L989.5 637.0L986.2 637.0L986.2 637.9L982.9 637.9L982.9 638.1L979.6 638.1L979.6 638.9L976.3 638.9L976.3 636.9L973.0 636.9L973.0 638.1L969.7 638.1L969.7 634.5L966.4 634.5L966.4 635.4L963.1 635.4L963.1 635.3L959.8 635.3L959.8 634.9L956.5 634.9L956.5 634.0L953.2 634.0L953.2 632.3L949.9 632.3L949.9 630.6L946.6 630.6L946.6 629.9L943.3 629.9L943.3 629.3L940.0 629.3L940.0 628.4L936.7 628.4L936.7 627.6L933.4 627.6L933.4 627.0L930.1 627.0L930.1 628.8L926.8 628.8L926.8 630.1L923.5 630.1L923.5 629.8L920.2 629.8L920.2 629.6L916.9 629.6L916.9 627.3L913.6 627.3L913.6 628.2L910.3 628.2L910.3 628.3L907.0 628.3L907.0 627.8L903.7 627.8L903.7 627.1L900.4 627.1L900.4 624.5L897.1 624.5L897.1 622.7L893.8 622.7L893.8 620.5L890.5 620.5L890.5 619.5L887.2 619.5L887.2 619.2L883.9 619.2L883.9 618.0L880.6 618.0L880.6 619.6L877.3 619.6L877.3 620.7L874.0 620.7L874.0 620.0L870.7 620.0L870.7 617.3L867.4 617.3L867.4 618.2L864.1 618.2L864.1 616.6L860.8 616.6L860.8 615.2L857.5 615.2L857.5 615.0L854.2 615.0L854.2 613.0L850.9 613.0L850.9 611.5L847.6 611.5L847.6 609.4L844.3 609.4L844.3 607.6L841.0 607.6L841.0 605.9L837.7 605.9L837.7 605.5L834.4 605.5L834.4 604.7L831.1 604.7L831.1 605.6L827.8 605.6L827.8 603.9L824.5 603.9L824.5 604.5L821.2 604.5L821.2 603.4L817.9 603.4L817.9 601.0L814.6 601.0L814.6 599.7L811.3 599.7L811.3 600.8L808.0 600.8L808.0 598.3L804.7 598.3L804.7 597.7L801.4 597.7L801.4 596.0L798.1 596.0L798.1 595.1L794.8 595.1L794.8 594.9L791.5 594.9L791.5 593.8L788.2 593.8L788.2 592.5L784.9 592.5L784.9 590.8L781.6 590.8L781.6 590.3L778.3 590.3L778.3 590.8L775.0 590.8L775.0 589.5L771.7 589.5L771.7 588.4L768.4 588.4L768.4 586.9L765.1 586.9L765.1 586.1L761.8 586.1L761.8 585.4L758.5 585.4L758.5 585.7L755.2 585.7L755.2 584.4L751.9 584.4L751.9 582.6L748.6 582.6L748.6 580.5L745.3 580.5L745.3 578.0L742.0 578.0L742.0 575.8L738.7 575.8L738.7 573.9L735.4 573.9L735.4 573.0L732.1 573.0L732.1 571.8L728.8 571.8L728.8 570.5L725.5 570.5L725.5 569.1L722.2 569.1L722.2 569.3L718.9 569.3L718.9 567.9L715.6 567.9L715.6 568.0L712.3 568.0L712.3 566.8L709.0 566.8L709.0 566.0L705.7 566.0L705.7 565.4L702.4 565.4L702.4 563.4L699.1 563.4L699.1 561.6L695.8 561.6L695.8 559.3L692.5 559.3L692.5 557.3L689.2 557.3L689.2 554.9L685.9 554.9L685.9 553.0L682.6 553.0L682.6 549.8L679.3 549.8L679.3 547.3L676.0 547.3Z" fill="#009a46"/>
<path d="M240.5 127.0L349.0 127.0L412.0 159.5L457.6 129.5L492.0 230.0L520.0 237.0L544.0 340.0L565.0 373.0L583.0 400.0L599.5 430.0L611.5 458.0L628.6 477.0L642.3 489.0L652.6 510.0L680.0 525.0L714.0 539.0" fill="none" stroke="#ff8000" stroke-width="10.8" stroke-linejoin="round"/>
<path d="M712.0 533.4L715.3 533.4L715.3 532.5L718.6 532.5L718.6 533.5L721.9 533.5L721.9 534.4L725.2 534.4L725.2 535.2L728.5 535.2L728.5 534.2L731.8 534.2L731.8 534.6L735.1 534.6L735.1 534.5L738.4 534.5L738.4 532.9L741.7 532.9L741.7 533.9L745.0 533.9L745.0 533.1L748.3 533.1L748.3 532.8L751.6 532.8L751.6 530.5L754.9 530.5L754.9 532.3L758.2 532.3L758.2 531.2L761.5 531.2L761.5 532.8L764.8 532.8L764.8 534.8L768.1 534.8L768.1 535.2L771.4 535.2L771.4 535.5L774.7 535.5L774.7 536.4L778.0 536.4L778.0 536.3L781.3 536.3L781.3 536.7L784.6 536.7L784.6 536.9L787.9 536.9L787.9 536.7L791.2 536.7L791.2 537.0L794.5 537.0L794.5 537.5L797.8 537.5L797.8 538.3L801.1 538.3L801.1 539.3L804.4 539.3L804.4 539.2L807.7 539.2L807.7 538.5L811.0 538.5L811.0 539.5L814.3 539.5L814.3 540.2L817.6 540.2L817.6 540.6L820.9 540.6L820.9 542.9L824.2 542.9L824.2 543.8L827.5 543.8L827.5 544.9L830.8 544.9L830.8 545.8L834.1 545.8L834.1 545.5L837.4 545.5L837.4 543.7L840.7 543.7L840.7 544.2L844.0 544.2L844.0 545.9L847.3 545.9L847.3 546.9L850.6 546.9L850.6 547.5L853.9 547.5L853.9 547.2L857.2 547.2L857.2 545.9L860.5 545.9L860.5 545.4L863.8 545.4L863.8 544.5L867.1 544.5L867.1 546.3L870.4 546.3L870.4 543.5L873.7 543.5L873.7 541.4L877.0 541.4L877.0 542.5L880.3 542.5L880.3 542.4L883.6 542.4L883.6 542.3L886.9 542.3L886.9 542.6L890.2 542.6L890.2 543.6L893.5 543.6L893.5 544.6L896.8 544.6L896.8 545.3L900.1 545.3L900.1 545.0L903.4 545.0L903.4 547.4L906.7 547.4L906.7 547.6L910.0 547.6L910.0 546.5L913.3 546.5L913.3 546.0L916.6 546.0L916.6 545.6L919.9 545.6L919.9 548.2L923.2 548.2L923.2 547.0L926.5 547.0L926.5 546.8L929.8 546.8L929.8 546.0L933.1 546.0L933.1 547.4L936.4 547.4L936.4 548.7L939.7 548.7L939.7 548.5L943.0 548.5L943.0 550.7L946.3 550.7L946.3 548.9L949.6 548.9L949.6 549.0L952.9 549.0L952.9 548.3L956.2 548.3L956.2 549.5L959.5 549.5L959.5 550.0L962.8 550.0L962.8 547.6L966.1 547.6L966.1 549.0L969.4 549.0L969.4 549.4L972.7 549.4L972.7 549.0L976.0 549.0L976.0 549.4L979.3 549.4L979.3 551.2L982.6 551.2L982.6 549.6L985.9 549.6L985.9 547.8L989.2 547.8L989.2 549.3L992.5 549.3L992.5 549.2L995.8 549.2L995.8 548.3L999.1 548.3L999.1 547.0L1002.4 547.0L1002.4 548.0L1005.7 548.0L1005.7 548.9L1009.0 548.9L1009.0 549.6L1012.3 549.6L1012.3 548.5L1015.6 548.5L1015.6 549.3L1018.9 549.3L1018.9 548.6L1022.2 548.6L1022.2 551.8L1025.5 551.8L1025.5 551.6L1028.8 551.6L1028.8 549.9L1032.1 549.9L1032.1 551.0L1035.4 551.0L1035.4 552.9L1038.7 552.9L1038.7 551.7L1042.0 551.7L1042.0 553.4L1045.3 553.4L1045.3 551.9L1048.6 551.9L1048.6 552.1L1051.9 552.1L1051.9 550.4L1055.2 550.4L1055.2 550.6L1058.5 550.6L1058.5 552.0L1061.8 552.0L1061.8 552.9L1065.1 552.9L1065.1 552.6L1068.4 552.6L1068.4 553.5L1071.7 553.5L1071.7 553.0L1075.0 553.0L1075.0 554.2L1078.3 554.2L1078.3 553.8L1081.6 553.8L1081.6 551.4L1084.9 551.4L1084.9 552.6L1088.2 552.6L1088.2 554.7L1091.5 554.7L1091.5 553.1L1094.8 553.1L1094.8 553.3L1098.1 553.3L1098.1 552.5L1101.4 552.5L1101.4 553.5L1104.7 553.5L1104.7 556.1L1108.0 556.1L1108.0 556.4L1111.3 556.4L1111.3 555.4L1114.6 555.4L1114.6 553.7L1117.9 553.7L1117.9 553.2L1121.2 553.2L1121.2 552.4L1124.5 552.4L1124.5 552.6L1127.8 552.6L1127.8 552.3L1131.1 552.3L1131.1 554.0L1134.4 554.0L1134.4 554.7L1137.7 554.7L1137.7 555.0L1141.0 555.0L1141.0 553.4L1144.3 553.4L1144.3 553.7L1147.6 553.7L1147.6 553.4L1150.9 553.4L1150.9 554.5L1154.2 554.5L1154.2 554.8L1157.5 554.8L1157.5 552.9L1160.8 552.9L1160.8 552.9L1164.1 552.9L1164.1 553.5L1167.4 553.5L1167.4 552.7L1170.7 552.7L1170.7 549.1L1174.0 549.1L1174.0 548.4L1177.3 548.4L1177.3 548.5L1180.6 548.5L1180.6 550.0L1183.9 550.0L1183.9 551.2L1187.2 551.2L1187.2 550.9L1190.5 550.9L1190.5 552.1L1193.8 552.1L1193.8 553.4L1197.1 553.4L1197.1 553.4L1200.4 553.4L1200.4 552.4L1203.7 552.4L1203.7 552.4L1207.0 552.4L1207.0 553.5L1210.3 553.5L1210.3 554.2L1213.6 554.2L1213.6 555.0L1216.9 555.0L1216.9 554.0L1220.2 554.0L1220.2 554.4L1223.5 554.4L1223.5 552.6L1226.8 552.6L1226.8 551.9L1230.1 551.9L1230.1 551.4L1233.4 551.4L1233.4 552.4L1236.7 552.4L1236.7 551.7L1240.0 551.7L1240.0 549.5L1243.3 549.5L1243.3 550.3L1246.6 550.3L1246.6 549.5L1249.9 549.5L1249.9 548.8L1253.2 548.8L1253.2 549.9L1256.5 549.9L1256.5 548.8L1259.8 548.8L1259.8 547.7L1263.1 547.7L1263.1 547.2L1266.4 547.2L1266.4 546.8L1269.7 546.8L1269.7 548.2L1273.0 548.2L1273.0 546.8L1276.3 546.8L1276.3 547.1L1279.6 547.1L1279.6 547.2L1282.9 547.2L1282.9 546.0L1286.2 546.0L1286.2 547.0L1289.5 547.0L1289.5 547.5L1292.8 547.5L1292.8 545.6L1296.1 545.6L1296.1 545.3L1299.4 545.3L1299.4 544.9L1302.7 544.9L1302.7 545.2L1306.0 545.2L1306.0 544.9L1309.3 544.9L1309.3 545.3L1312.6 545.3L1312.6 544.6L1315.9 544.6L1315.9 543.9L1319.2 543.9L1319.2 543.9L1322.5 543.9L1322.5 542.7L1325.8 542.7L1325.8 542.8L1329.1 542.8L1329.1 543.4L1332.4 543.4L1332.4 542.1L1335.7 542.1L1335.7 541.3L1339.0 541.3L1339.0 540.8L1342.3 540.8L1342.3 540.4L1345.6 540.4L1345.6 539.1L1348.9 539.1L1348.9 538.9L1352.2 538.9L1352.2 539.2L1355.5 539.2L1355.5 539.2L1358.8 539.2L1358.8 536.6L1362.1 536.6L1362.1 535.2L1365.4 535.2L1365.4 534.6L1368.7 534.6L1368.7 533.1L1372.0 533.1L1372.0 533.4L1375.3 533.4L1375.3 529.0L1378.6 529.0L1378.6 529.7L1381.9 529.7L1381.9 528.7L1385.2 528.7L1385.2 525.9L1388.5 525.9L1388.5 524.4L1391.8 524.4L1391.8 522.9L1395.1 522.9L1395.1 520.5L1398.4 520.5L1398.4 518.8L1401.7 518.8L1401.7 515.8L1405.0 515.8L1405.0 514.5L1408.3 514.5L1408.3 511.5L1411.6 511.5L1411.6 510.2L1414.9 510.2L1414.9 505.4L1418.2 505.4L1418.2 503.0L1421.5 503.0L1421.5 499.9L1424.8 499.9L1424.8 495.9L1428.1 495.9L1428.1 493.6L1431.4 493.6L1431.4 492.7L1434.7 492.7L1434.7 487.0L1438.0 487.0L1438.0 484.0L1441.3 484.0L1441.3 479.4L1444.6 479.4L1444.6 476.6L1447.9 476.6L1447.9 476.1L1451.2 476.1L1451.2 474.2L1454.5 474.2L1454.5 474.3L1457.8 474.3L1457.8 473.0L1461.1 473.0L1461.1 470.0L1464.4 470.0L1464.4 475.0L1467.7 475.0L1467.7 479.6L1471.0 479.6L1471.0 484.3L1474.3 484.3L1474.3 489.2L1477.6 489.2L1477.6 491.0L1478.0 491.0L1478.0 507.2L1477.6 507.2L1477.6 505.5L1474.3 505.5L1474.3 501.2L1471.0 501.2L1471.0 495.6L1467.7 495.6L1467.7 491.3L1464.4 491.3L1464.4 486.8L1461.1 486.8L1461.1 487.4L1457.8 487.4L1457.8 489.6L1454.5 489.6L1454.5 492.1L1451.2 492.1L1451.2 495.0L1447.9 495.0L1447.9 499.6L1444.6 499.6L1444.6 501.2L1441.3 501.2L1441.3 504.1L1438.0 504.1L1438.0 506.8L1434.7 506.8L1434.7 507.9L1431.4 507.9L1431.4 513.0L1428.1 513.0L1428.1 514.9L1424.8 514.9L1424.8 518.1L1421.5 518.1L1421.5 519.9L1418.2 519.9L1418.2 525.0L1414.9 525.0L1414.9 526.2L1411.6 526.2L1411.6 531.4L1408.3 531.4L1408.3 533.4L1405.0 533.4L1405.0 535.6L1401.7 535.6L1401.7 538.9L1398.4 538.9L1398.4 541.4L1395.1 541.4L1395.1 542.9L1391.8 542.9L1391.8 544.4L1388.5 544.4L1388.5 545.5L1385.2 545.5L1385.2 547.5L1381.9 547.5L1381.9 548.2L1378.6 548.2L1378.6 549.2L1375.3 549.2L1375.3 552.7L1372.0 552.7L1372.0 553.9L1368.7 553.9L1368.7 555.2L1365.4 555.2L1365.4 558.1L1362.1 558.1L1362.1 559.2L1358.8 559.2L1358.8 558.7L1355.5 558.7L1355.5 559.6L1352.2 559.6L1352.2 558.7L1348.9 558.7L1348.9 560.7L1345.6 560.7L1345.6 560.6L1342.3 560.6L1342.3 561.1L1339.0 561.1L1339.0 563.0L1335.7 563.0L1335.7 561.7L1332.4 561.7L1332.4 561.9L1329.1 561.9L1329.1 562.2L1325.8 562.2L1325.8 564.8L1322.5 564.8L1322.5 564.7L1319.2 564.7L1319.2 563.6L1315.9 563.6L1315.9 562.8L1312.6 562.8L1312.6 564.1L1309.3 564.1L1309.3 567.2L1306.0 567.2L1306.0 566.8L1302.7 566.8L1302.7 566.4L1299.4 566.4L1299.4 566.2L1296.1 566.2L1296.1 565.3L1292.8 565.3L1292.8 563.5L1289.5 563.5L1289.5 565.6L1286.2 565.6L1286.2 567.7L1282.9 567.7L1282.9 569.8L1279.6 569.8L1279.6 570.2L1276.3 570.2L1276.3 571.1L1273.0 571.1L1273.0 572.8L1269.7 572.8L1269.7 572.0L1266.4 572.0L1266.4 572.6L1263.1 572.6L1263.1 574.2L1259.8 574.2L1259.8 574.5L1256.5 574.5L1256.5 572.9L1253.2 572.9L1253.2 572.3L1249.9 572.3L1249.9 572.7L1246.6 572.7L1246.6 574.7L1243.3 574.7L1243.3 575.2L1240.0 575.2L1240.0 575.9L1236.7 575.9L1236.7 576.7L1233.4 576.7L1233.4 575.2L1230.1 575.2L1230.1 574.6L1226.8 574.6L1226.8 574.7L1223.5 574.7L1223.5 576.1L1220.2 576.1L1220.2 575.7L1216.9 575.7L1216.9 573.3L1213.6 573.3L1213.6 574.1L1210.3 574.1L1210.3 574.2L1207.0 574.2L1207.0 574.3L1203.7 574.3L1203.7 573.8L1200.4 573.8L1200.4 571.6L1197.1 571.6L1197.1 571.0L1193.8 571.0L1193.8 571.3L1190.5 571.3L1190.5 573.7L1187.2 573.7L1187.2 573.9L1183.9 573.9L1183.9 575.8L1180.6 575.8L1180.6 577.5L1177.3 577.5L1177.3 577.0L1174.0 577.0L1174.0 576.6L1170.7 576.6L1170.7 574.2L1167.4 574.2L1167.4 574.5L1164.1 574.5L1164.1 575.5L1160.8 575.5L1160.8 574.9L1157.5 574.9L1157.5 574.7L1154.2 574.7L1154.2 574.7L1150.9 574.7L1150.9 574.7L1147.6 574.7L1147.6 573.2L1144.3 573.2L1144.3 573.6L1141.0 573.6L1141.0 572.5L1137.7 572.5L1137.7 570.5L1134.4 570.5L1134.4 571.3L1131.1 571.3L1131.1 571.8L1127.8 571.8L1127.8 572.3L1124.5 572.3L1124.5 573.8L1121.2 573.8L1121.2 573.6L1117.9 573.6L1117.9 576.3L1114.6 576.3L1114.6 574.1L1111.3 574.1L1111.3 575.0L1108.0 575.0L1108.0 573.4L1104.7 573.4L1104.7 571.8L1101.4 571.8L1101.4 571.3L1098.1 571.3L1098.1 573.2L1094.8 573.2L1094.8 571.3L1091.5 571.3L1091.5 571.4L1088.2 571.4L1088.2 570.4L1084.9 570.4L1084.9 571.1L1081.6 571.1L1081.6 572.4L1078.3 572.4L1078.3 573.4L1075.0 573.4L1075.0 573.2L1071.7 573.2L1071.7 573.9L1068.4 573.9L1068.4 570.7L1065.1 570.7L1065.1 570.1L1061.8 570.1L1061.8 570.8L1058.5 570.8L1058.5 572.7L1055.2 572.7L1055.2 574.4L1051.9 574.4L1051.9 573.8L1048.6 573.8L1048.6 573.1L1045.3 573.1L1045.3 571.8L1042.0 571.8L1042.0 570.1L1038.7 570.1L1038.7 570.4L1035.4 570.4L1035.4 569.6L1032.1 569.6L1032.1 570.0L1028.8 570.0L1028.8 569.1L1025.5 569.1L1025.5 568.5L1022.2 568.5L1022.2 569.2L1018.9 569.2L1018.9 571.3L1015.6 571.3L1015.6 571.8L1012.3 571.8L1012.3 571.0L1009.0 571.0L1009.0 572.0L1005.7 572.0L1005.7 571.2L1002.4 571.2L1002.4 572.2L999.1 572.2L999.1 573.2L995.8 573.2L995.8 571.6L992.5 571.6L992.5 570.7L989.2 570.7L989.2 571.5L985.9 571.5L985.9 571.0L982.6 571.0L982.6 572.3L979.3 572.3L979.3 572.5L976.0 572.5L976.0 571.6L972.7 571.6L972.7 574.4L969.4 574.4L969.4 576.3L966.1 576.3L966.1 575.2L962.8 575.2L962.8 573.7L959.5 573.7L959.5 572.9L956.2 572.9L956.2 572.1L952.9 572.1L952.9 571.6L949.6 571.6L949.6 570.1L946.3 570.1L946.3 568.4L943.0 568.4L943.0 569.7L939.7 569.7L939.7 570.3L936.4 570.3L936.4 569.7L933.1 569.7L933.1 570.4L929.8 570.4L929.8 571.5L926.5 571.5L926.5 571.1L923.2 571.1L923.2 570.2L919.9 570.2L919.9 569.4L916.6 569.4L916.6 568.8L913.3 568.8L913.3 568.1L910.0 568.1L910.0 566.3L906.7 566.3L906.7 566.9L903.4 566.9L903.4 566.2L900.1 566.2L900.1 568.4L896.8 568.4L896.8 567.2L893.5 567.2L893.5 567.9L890.2 567.9L890.2 567.6L886.9 567.6L886.9 569.9L883.6 569.9L883.6 569.1L880.3 569.1L880.3 567.9L877.0 567.9L877.0 569.0L873.7 569.0L873.7 569.1L870.4 569.1L870.4 569.4L867.1 569.4L867.1 569.1L863.8 569.1L863.8 568.9L860.5 568.9L860.5 568.9L857.2 568.9L857.2 569.4L853.9 569.4L853.9 568.0L850.6 568.0L850.6 566.5L847.3 566.5L847.3 565.3L844.0 565.3L844.0 564.6L840.7 564.6L840.7 561.5L837.4 561.5L837.4 560.4L834.1 560.4L834.1 561.2L830.8 561.2L830.8 561.1L827.5 561.1L827.5 559.8L824.2 559.8L824.2 559.2L820.9 559.2L820.9 559.9L817.6 559.9L817.6 558.9L814.3 558.9L814.3 557.1L811.0 557.1L811.0 557.1L807.7 557.1L807.7 558.8L804.4 558.8L804.4 557.2L801.1 557.2L801.1 556.3L797.8 556.3L797.8 557.5L794.5 557.5L794.5 557.5L791.2 557.5L791.2 559.4L787.9 559.4L787.9 557.2L784.6 557.2L784.6 557.9L781.3 557.9L781.3 557.2L778.0 557.2L778.0 556.5L774.7 556.5L774.7 554.5L771.4 554.5L771.4 554.1L768.1 554.1L768.1 553.6L764.8 553.6L764.8 553.0L761.5 553.0L761.5 551.5L758.2 551.5L758.2 552.4L754.9 552.4L754.9 552.6L751.6 552.6L751.6 550.9L748.3 550.9L748.3 552.2L745.0 552.2L745.0 553.0L741.7 553.0L741.7 552.8L738.4 552.8L738.4 553.0L735.1 553.0L735.1 551.9L731.8 551.9L731.8 551.2L728.5 551.2L728.5 549.9L725.2 549.9L725.2 548.7L721.9 548.7L721.9 548.9L718.6 548.9L718.6 548.2L715.3 548.2L715.3 548.8L712.0 548.8Z" fill="#ff8000"/>
<path d="M1396 528L1410 501L1430 487L1452 470L1462 467L1470 468L1479 492L1489 530L1470 540Z" fill="#ff8000"/>
<path d="M240.5 143.7L349.0 91.0L412.0 174.5L457.6 171.5L491.5 257.0L520.5 266.0L544.0 402.0L564.7 432.0L583.0 452.0L599.5 468.6L628.6 496.0L663.0 516.6L697.2 530.4L711.0 535.5L720.0 530.0L728.0 523.0" fill="none" stroke="#000000" stroke-width="10.8" stroke-linejoin="round"/>
<path d="M724.0 517.3L727.3 517.3L727.3 517.1L730.6 517.1L730.6 515.9L733.9 515.9L733.9 516.4L737.2 516.4L737.2 516.6L740.5 516.6L740.5 516.7L743.8 516.7L743.8 515.0L747.1 515.0L747.1 515.0L750.4 515.0L750.4 514.9L753.7 514.9L753.7 516.1L757.0 516.1L757.0 514.3L760.3 514.3L760.3 515.3L763.6 515.3L763.6 516.0L766.9 516.0L766.9 517.7L770.2 517.7L770.2 515.2L773.5 515.2L773.5 513.9L776.8 513.9L776.8 513.5L780.1 513.5L780.1 515.5L783.4 515.5L783.4 514.2L786.7 514.2L786.7 513.3L790.0 513.3L790.0 513.7L793.3 513.7L793.3 513.0L796.6 513.0L796.6 514.0L799.9 514.0L799.9 514.4L803.2 514.4L803.2 516.8L806.5 516.8L806.5 517.6L809.8 517.6L809.8 516.6L813.1 516.6L813.1 517.6L816.4 517.6L816.4 517.2L819.7 517.2L819.7 517.1L823.0 517.1L823.0 518.9L826.3 518.9L826.3 516.7L829.6 516.7L829.6 516.8L832.9 516.8L832.9 516.1L836.2 516.1L836.2 520.5L839.5 520.5L839.5 520.8L842.8 520.8L842.8 521.4L846.1 521.4L846.1 520.5L849.4 520.5L849.4 520.8L852.7 520.8L852.7 521.0L856.0 521.0L856.0 520.5L859.3 520.5L859.3 519.7L862.6 519.7L862.6 520.7L865.9 520.7L865.9 520.4L869.2 520.4L869.2 521.3L872.5 521.3L872.5 520.8L875.8 520.8L875.8 519.7L879.1 519.7L879.1 518.6L882.4 518.6L882.4 520.1L885.7 520.1L885.7 518.4L889.0 518.4L889.0 517.0L892.3 517.0L892.3 518.1L895.6 518.1L895.6 520.0L898.9 520.0L898.9 521.4L902.2 521.4L902.2 520.6L905.5 520.6L905.5 520.5L908.8 520.5L908.8 519.3L912.1 519.3L912.1 520.4L915.4 520.4L915.4 519.5L918.7 519.5L918.7 519.9L922.0 519.9L922.0 519.4L925.3 519.4L925.3 520.6L928.6 520.6L928.6 519.4L931.9 519.4L931.9 519.2L935.2 519.2L935.2 520.6L938.5 520.6L938.5 520.8L941.8 520.8L941.8 519.6L945.1 519.6L945.1 520.1L948.4 520.1L948.4 519.7L951.7 519.7L951.7 521.3L955.0 521.3L955.0 522.3L958.3 522.3L958.3 521.3L961.6 521.3L961.6 520.8L964.9 520.8L964.9 521.4L968.2 521.4L968.2 519.9L971.5 519.9L971.5 520.2L974.8 520.2L974.8 521.2L978.1 521.2L978.1 521.3L981.4 521.3L981.4 522.1L984.7 522.1L984.7 520.4L988.0 520.4L988.0 520.5L991.3 520.5L991.3 520.8L994.6 520.8L994.6 520.9L997.9 520.9L997.9 521.7L1001.2 521.7L1001.2 521.1L1004.5 521.1L1004.5 522.2L1007.8 522.2L1007.8 518.9L1011.1 518.9L1011.1 519.5L1014.4 519.5L1014.4 519.5L1017.7 519.5L1017.7 520.9L1021.0 520.9L1021.0 520.4L1024.3 520.4L1024.3 520.8L1027.6 520.8L1027.6 520.7L1030.9 520.7L1030.9 521.6L1034.2 521.6L1034.2 521.5L1037.5 521.5L1037.5 522.2L1040.8 522.2L1040.8 520.3L1044.1 520.3L1044.1 518.1L1047.4 518.1L1047.4 520.4L1050.7 520.4L1050.7 519.8L1054.0 519.8L1054.0 521.0L1057.3 521.0L1057.3 521.6L1060.6 521.6L1060.6 521.4L1063.9 521.4L1063.9 523.1L1067.2 523.1L1067.2 522.5L1070.5 522.5L1070.5 523.0L1073.8 523.0L1073.8 522.3L1077.1 522.3L1077.1 523.3L1080.4 523.3L1080.4 521.9L1083.7 521.9L1083.7 521.7L1087.0 521.7L1087.0 522.6L1090.3 522.6L1090.3 522.8L1093.6 522.8L1093.6 522.2L1096.9 522.2L1096.9 520.8L1100.2 520.8L1100.2 518.9L1103.5 518.9L1103.5 518.6L1106.8 518.6L1106.8 520.1L1110.1 520.1L1110.1 519.5L1113.4 519.5L1113.4 520.3L1116.7 520.3L1116.7 520.3L1120.0 520.3L1120.0 519.8L1123.3 519.8L1123.3 520.0L1126.6 520.0L1126.6 519.3L1129.9 519.3L1129.9 519.1L1133.2 519.1L1133.2 519.9L1136.5 519.9L1136.5 520.0L1139.8 520.0L1139.8 519.1L1143.1 519.1L1143.1 521.5L1146.4 521.5L1146.4 521.1L1149.7 521.1L1149.7 520.4L1153.0 520.4L1153.0 520.1L1156.3 520.1L1156.3 521.5L1159.6 521.5L1159.6 520.4L1162.9 520.4L1162.9 518.7L1166.2 518.7L1166.2 519.0L1169.5 519.0L1169.5 518.6L1172.8 518.6L1172.8 519.5L1176.1 519.5L1176.1 519.0L1179.4 519.0L1179.4 518.4L1182.7 518.4L1182.7 519.6L1186.0 519.6L1186.0 518.7L1189.3 518.7L1189.3 517.6L1192.6 517.6L1192.6 515.7L1195.9 515.7L1195.9 516.1L1199.2 516.1L1199.2 517.6L1202.5 517.6L1202.5 519.1L1205.8 519.1L1205.8 520.2L1209.1 520.2L1209.1 521.1L1212.4 521.1L1212.4 519.7L1215.7 519.7L1215.7 518.8L1219.0 518.8L1219.0 518.9L1222.3 518.9L1222.3 519.1L1225.6 519.1L1225.6 518.5L1228.9 518.5L1228.9 521.1L1232.2 521.1L1232.2 519.7L1235.5 519.7L1235.5 519.8L1238.8 519.8L1238.8 519.5L1242.1 519.5L1242.1 519.0L1245.4 519.0L1245.4 518.9L1248.7 518.9L1248.7 517.2L1252.0 517.2L1252.0 518.2L1255.3 518.2L1255.3 518.5L1258.6 518.5L1258.6 519.2L1261.9 519.2L1261.9 516.9L1265.2 516.9L1265.2 516.7L1268.5 516.7L1268.5 517.0L1271.8 517.0L1271.8 517.8L1275.1 517.8L1275.1 518.2L1278.4 518.2L1278.4 517.3L1281.7 517.3L1281.7 518.5L1285.0 518.5L1285.0 518.4L1288.3 518.4L1288.3 518.2L1291.6 518.2L1291.6 518.4L1294.9 518.4L1294.9 517.0L1298.2 517.0L1298.2 518.6L1301.5 518.6L1301.5 517.7L1304.8 517.7L1304.8 517.1L1308.1 517.1L1308.1 517.4L1311.4 517.4L1311.4 518.1L1314.7 518.1L1314.7 517.2L1318.0 517.2L1318.0 515.3L1321.3 515.3L1321.3 516.6L1324.6 516.6L1324.6 517.4L1327.9 517.4L1327.9 516.0L1331.2 516.0L1331.2 518.2L1334.5 518.2L1334.5 518.0L1337.8 518.0L1337.8 518.7L1341.1 518.7L1341.1 517.3L1344.4 517.3L1344.4 516.0L1347.7 516.0L1347.7 515.6L1351.0 515.6L1351.0 515.7L1354.3 515.7L1354.3 516.3L1357.6 516.3L1357.6 516.7L1360.9 516.7L1360.9 516.3L1364.2 516.3L1364.2 517.4L1367.5 517.4L1367.5 516.2L1370.8 516.2L1370.8 514.3L1374.1 514.3L1374.1 514.2L1377.4 514.2L1377.4 513.0L1380.7 513.0L1380.7 511.2L1384.0 511.2L1384.0 510.7L1387.3 510.7L1387.3 509.7L1390.6 509.7L1390.6 509.6L1393.9 509.6L1393.9 507.7L1397.2 507.7L1397.2 508.0L1400.5 508.0L1400.5 508.0L1403.8 508.0L1403.8 507.5L1407.1 507.5L1407.1 506.2L1410.4 506.2L1410.4 505.4L1413.7 505.4L1413.7 504.4L1417.0 504.4L1417.0 504.5L1420.3 504.5L1420.3 502.2L1423.6 502.2L1423.6 503.0L1426.9 503.0L1426.9 500.5L1430.2 500.5L1430.2 502.3L1433.5 502.3L1433.5 499.3L1436.8 499.3L1436.8 498.3L1440.1 498.3L1440.1 498.8L1443.4 498.8L1443.4 498.7L1446.7 498.7L1446.7 498.6L1450.0 498.6L1450.0 497.8L1453.3 497.8L1453.3 496.8L1456.6 496.8L1456.6 495.9L1459.9 495.9L1459.9 493.6L1463.2 493.6L1463.2 496.7L1466.5 496.7L1466.5 499.5L1469.8 499.5L1469.8 501.5L1473.1 501.5L1473.1 501.7L1474.0 501.7L1474.0 522.7L1473.1 522.7L1473.1 521.5L1469.8 521.5L1469.8 520.3L1466.5 520.3L1466.5 517.0L1463.2 517.0L1463.2 514.8L1459.9 514.8L1459.9 517.8L1456.6 517.8L1456.6 517.7L1453.3 517.7L1453.3 517.6L1450.0 517.6L1450.0 519.1L1446.7 519.1L1446.7 518.1L1443.4 518.1L1443.4 519.7L1440.1 519.7L1440.1 521.8L1436.8 521.8L1436.8 521.4L1433.5 521.4L1433.5 523.4L1430.2 523.4L1430.2 523.1L1426.9 523.1L1426.9 524.9L1423.6 524.9L1423.6 526.4L1420.3 526.4L1420.3 526.1L1417.0 526.1L1417.0 526.6L1413.7 526.6L1413.7 527.6L1410.4 527.6L1410.4 527.6L1407.1 527.6L1407.1 529.0L1403.8 529.0L1403.8 531.2L1400.5 531.2L1400.5 530.4L1397.2 530.4L1397.2 532.6L1393.9 532.6L1393.9 530.5L1390.6 530.5L1390.6 530.4L1387.3 530.4L1387.3 532.4L1384.0 532.4L1384.0 531.4L1380.7 531.4L1380.7 533.2L1377.4 533.2L1377.4 534.2L1374.1 534.2L1374.1 534.4L1370.8 534.4L1370.8 535.6L1367.5 535.6L1367.5 534.4L1364.2 534.4L1364.2 534.2L1360.9 534.2L1360.9 535.3L1357.6 535.3L1357.6 536.1L1354.3 536.1L1354.3 537.7L1351.0 537.7L1351.0 537.7L1347.7 537.7L1347.7 537.4L1344.4 537.4L1344.4 537.1L1341.1 537.1L1341.1 538.0L1337.8 538.0L1337.8 536.7L1334.5 536.7L1334.5 538.1L1331.2 538.1L1331.2 539.9L1327.9 539.9L1327.9 539.3L1324.6 539.3L1324.6 539.2L1321.3 539.2L1321.3 539.6L1318.0 539.6L1318.0 538.2L1314.7 538.2L1314.7 537.5L1311.4 537.5L1311.4 536.6L1308.1 536.6L1308.1 535.9L1304.8 535.9L1304.8 536.2L1301.5 536.2L1301.5 536.7L1298.2 536.7L1298.2 535.5L1294.9 535.5L1294.9 535.9L1291.6 535.9L1291.6 535.9L1288.3 535.9L1288.3 538.0L1285.0 538.0L1285.0 540.3L1281.7 540.3L1281.7 538.0L1278.4 538.0L1278.4 539.1L1275.1 539.1L1275.1 540.6L1271.8 540.6L1271.8 539.2L1268.5 539.2L1268.5 537.4L1265.2 537.4L1265.2 536.1L1261.9 536.1L1261.9 537.4L1258.6 537.4L1258.6 537.6L1255.3 537.6L1255.3 538.6L1252.0 538.6L1252.0 539.9L1248.7 539.9L1248.7 538.5L1245.4 538.5L1245.4 538.4L1242.1 538.4L1242.1 538.4L1238.8 538.4L1238.8 538.0L1235.5 538.0L1235.5 537.8L1232.2 537.8L1232.2 536.8L1228.9 536.8L1228.9 538.0L1225.6 538.0L1225.6 538.5L1222.3 538.5L1222.3 538.2L1219.0 538.2L1219.0 539.2L1215.7 539.2L1215.7 540.3L1212.4 540.3L1212.4 539.2L1209.1 539.2L1209.1 539.6L1205.8 539.6L1205.8 539.7L1202.5 539.7L1202.5 538.8L1199.2 538.8L1199.2 539.4L1195.9 539.4L1195.9 540.0L1192.6 540.0L1192.6 540.4L1189.3 540.4L1189.3 540.8L1186.0 540.8L1186.0 541.3L1182.7 541.3L1182.7 542.0L1179.4 542.0L1179.4 541.9L1176.1 541.9L1176.1 544.0L1172.8 544.0L1172.8 542.3L1169.5 542.3L1169.5 542.2L1166.2 542.2L1166.2 540.0L1162.9 540.0L1162.9 540.6L1159.6 540.6L1159.6 540.0L1156.3 540.0L1156.3 539.5L1153.0 539.5L1153.0 539.8L1149.7 539.8L1149.7 540.1L1146.4 540.1L1146.4 541.9L1143.1 541.9L1143.1 539.8L1139.8 539.8L1139.8 540.5L1136.5 540.5L1136.5 541.3L1133.2 541.3L1133.2 541.6L1129.9 541.6L1129.9 540.6L1126.6 540.6L1126.6 540.9L1123.3 540.9L1123.3 542.2L1120.0 542.2L1120.0 542.5L1116.7 542.5L1116.7 541.7L1113.4 541.7L1113.4 543.1L1110.1 543.1L1110.1 541.0L1106.8 541.0L1106.8 541.7L1103.5 541.7L1103.5 541.1L1100.2 541.1L1100.2 541.6L1096.9 541.6L1096.9 543.2L1093.6 543.2L1093.6 542.9L1090.3 542.9L1090.3 542.1L1087.0 542.1L1087.0 540.9L1083.7 540.9L1083.7 542.2L1080.4 542.2L1080.4 541.2L1077.1 541.2L1077.1 540.2L1073.8 540.2L1073.8 539.0L1070.5 539.0L1070.5 539.1L1067.2 539.1L1067.2 540.4L1063.9 540.4L1063.9 540.5L1060.6 540.5L1060.6 540.4L1057.3 540.4L1057.3 541.3L1054.0 541.3L1054.0 541.7L1050.7 541.7L1050.7 542.1L1047.4 542.1L1047.4 540.1L1044.1 540.1L1044.1 541.6L1040.8 541.6L1040.8 541.4L1037.5 541.4L1037.5 541.4L1034.2 541.4L1034.2 541.8L1030.9 541.8L1030.9 540.7L1027.6 540.7L1027.6 540.2L1024.3 540.2L1024.3 542.0L1021.0 542.0L1021.0 542.3L1017.7 542.3L1017.7 542.1L1014.4 542.1L1014.4 540.6L1011.1 540.6L1011.1 542.7L1007.8 542.7L1007.8 541.8L1004.5 541.8L1004.5 544.5L1001.2 544.5L1001.2 546.2L997.9 546.2L997.9 543.4L994.6 543.4L994.6 541.2L991.3 541.2L991.3 541.6L988.0 541.6L988.0 543.7L984.7 543.7L984.7 543.5L981.4 543.5L981.4 543.9L978.1 543.9L978.1 541.5L974.8 541.5L974.8 540.2L971.5 540.2L971.5 540.8L968.2 540.8L968.2 540.6L964.9 540.6L964.9 541.5L961.6 541.5L961.6 541.5L958.3 541.5L958.3 541.1L955.0 541.1L955.0 541.4L951.7 541.4L951.7 541.0L948.4 541.0L948.4 541.0L945.1 541.0L945.1 540.2L941.8 540.2L941.8 539.4L938.5 539.4L938.5 538.2L935.2 538.2L935.2 538.5L931.9 538.5L931.9 538.5L928.6 538.5L928.6 539.0L925.3 539.0L925.3 539.0L922.0 539.0L922.0 541.1L918.7 541.1L918.7 540.1L915.4 540.1L915.4 539.5L912.1 539.5L912.1 541.0L908.8 541.0L908.8 541.4L905.5 541.4L905.5 542.5L902.2 542.5L902.2 541.4L898.9 541.4L898.9 541.7L895.6 541.7L895.6 542.5L892.3 542.5L892.3 542.9L889.0 542.9L889.0 544.4L885.7 544.4L885.7 542.4L882.4 542.4L882.4 542.2L879.1 542.2L879.1 541.4L875.8 541.4L875.8 540.8L872.5 540.8L872.5 540.1L869.2 540.1L869.2 539.8L865.9 539.8L865.9 539.6L862.6 539.6L862.6 539.8L859.3 539.8L859.3 538.1L856.0 538.1L856.0 540.7L852.7 540.7L852.7 539.0L849.4 539.0L849.4 541.0L846.1 541.0L846.1 539.2L842.8 539.2L842.8 540.9L839.5 540.9L839.5 540.5L836.2 540.5L836.2 540.4L832.9 540.4L832.9 540.3L829.6 540.3L829.6 539.9L826.3 539.9L826.3 540.3L823.0 540.3L823.0 538.7L819.7 538.7L819.7 539.3L816.4 539.3L816.4 537.7L813.1 537.7L813.1 538.7L809.8 538.7L809.8 538.9L806.5 538.9L806.5 539.2L803.2 539.2L803.2 539.1L799.9 539.1L799.9 540.1L796.6 540.1L796.6 537.1L793.3 537.1L793.3 538.8L790.0 538.8L790.0 537.8L786.7 537.8L786.7 538.4L783.4 538.4L783.4 538.3L780.1 538.3L780.1 538.1L776.8 538.1L776.8 537.4L773.5 537.4L773.5 537.1L770.2 537.1L770.2 538.0L766.9 538.0L766.9 537.1L763.6 537.1L763.6 538.0L760.3 538.0L760.3 537.6L757.0 537.6L757.0 537.6L753.7 537.6L753.7 535.7L750.4 535.7L750.4 536.0L747.1 536.0L747.1 535.5L743.8 535.5L743.8 534.6L740.5 534.6L740.5 534.4L737.2 534.4L737.2 533.7L733.9 533.7L733.9 533.4L730.6 533.4L730.6 532.0L727.3 532.0L727.3 531.2L724.0 531.2Z" fill="#000000"/>
<path d="M1440 522L1448 506L1456 502L1463 508L1470 518L1462 522L1452 514Z" fill="#0000ff"/>
<path d="M1452 530L1460 514L1468 518L1478 540L1470 542Z" fill="#009a46"/>
<path d="M1466.0 500.0L1467.5 508.0L1469.0 516.0L1470.5 524.0L1472.0 532.0L1474.0 540.0L1476.0 548.0L1478.0 556.0L1480.0 564.0L1481.9 572.0L1482.6 575.0L1500.4 575.0L1499.9 572.0L1498.5 564.0L1497.4 556.0L1496.2 548.0L1495.0 540.0L1493.7 532.0L1492.2 524.0L1490.6 516.0L1489.1 508.0L1487.5 500.0Z" fill="#ff8000"/>
<path d="M1481.5 570.0L1483.3 578.0L1485.0 586.0L1486.8 594.0L1488.6 602.0L1490.0 610.0L1491.4 618.0L1492.8 626.0L1494.2 634.0L1495.4 642.0L1496.7 650.0L1497.9 658.0L1499.1 666.0L1500.1 674.0L1501.0 682.0L1502.0 690.0L1503.0 698.0L1503.9 706.0L1504.9 714.0L1505.8 722.0L1506.8 730.0L1507.8 738.0L1508.7 746.0L1509.7 754.0L1510.6 762.0L1511.6 770.0L1512.3 778.0L1513.0 786.0L1513.8 794.0L1514.5 802.0L1515.2 810.0L1515.9 818.0L1516.7 826.0L1517.4 834.0L1518.1 842.0L1518.8 850.0L1519.6 858.0L1520.3 866.0L1521.0 874.0L1521.7 882.0L1522.5 890.0L1523.2 898.0L1524.0 906.0L1524.7 914.0L1525.5 922.0L1526.2 930.0L1526.9 938.0L1527.7 946.0L1528.4 954.0L1529.2 962.0L1529.9 970.0L1530.7 978.0L1531.4 986.0L1532.2 994.0L1532.9 1002.0L1533.7 1010.0L1534.4 1018.0L1535.2 1026.0L1535.9 1034.0L1536.6 1042.0L1537.4 1050.0L1538.1 1058.0L1538.7 1066.0L1539.2 1074.0L1539.8 1082.0L1540.5 1090.0L1541.3 1098.0L1542.1 1106.0L1543.2 1114.0L1544.3 1122.0L1545.4 1130.0L1546.6 1138.0L1548.6 1146.0L1550.6 1154.0L1552.6 1162.0L1554.6 1170.0L1557.2 1178.0L1559.9 1186.0L1561.7 1191.2L1566.0 1191.2L1566.0 1186.0L1566.0 1178.0L1566.0 1170.0L1566.0 1162.0L1566.0 1154.0L1566.0 1146.0L1566.0 1138.0L1565.8 1130.0L1565.5 1122.0L1565.3 1114.0L1565.0 1106.0L1563.1 1098.0L1560.9 1090.0L1558.9 1082.0L1557.2 1074.0L1555.5 1066.0L1553.9 1058.0L1552.9 1050.0L1551.9 1042.0L1550.9 1034.0L1549.9 1026.0L1548.8 1018.0L1547.8 1010.0L1546.8 1002.0L1545.8 994.0L1545.0 986.0L1544.3 978.0L1543.6 970.0L1543.0 962.0L1542.3 954.0L1541.6 946.0L1540.9 938.0L1540.3 930.0L1539.6 922.0L1538.9 914.0L1538.3 906.0L1537.6 898.0L1536.9 890.0L1536.3 882.0L1535.7 874.0L1535.0 866.0L1534.4 858.0L1533.8 850.0L1533.2 842.0L1532.6 834.0L1532.0 826.0L1531.4 818.0L1530.8 810.0L1530.1 802.0L1529.5 794.0L1528.9 786.0L1528.3 778.0L1527.7 770.0L1526.8 762.0L1525.9 754.0L1525.0 746.0L1524.1 738.0L1523.2 730.0L1522.4 722.0L1521.5 714.0L1520.6 706.0L1519.7 698.0L1518.8 690.0L1517.9 682.0L1517.0 674.0L1516.1 666.0L1515.5 658.0L1515.0 650.0L1514.4 642.0L1513.7 634.0L1512.3 626.0L1510.9 618.0L1509.5 610.0L1508.1 602.0L1506.7 594.0L1505.3 586.0L1503.9 578.0L1502.5 570.0Z" fill="#ff8000"/>
<path d="M1465.8 515.0L1467.3 523.0L1468.8 531.0L1470.7 539.0L1472.7 547.0L1474.8 555.0L1476.8 563.0L1478.7 571.0L1480.5 579.0L1482.3 587.0L1484.0 595.0L1485.8 603.0L1487.2 611.0L1488.5 619.0L1489.9 627.0L1491.3 635.0L1492.6 643.0L1493.8 651.0L1495.1 659.0L1496.2 667.0L1497.2 675.0L1498.2 683.0L1499.1 691.0L1500.1 699.0L1501.0 707.0L1502.0 715.0L1503.0 723.0L1503.9 731.0L1504.9 739.0L1505.8 747.0L1506.8 755.0L1507.8 763.0L1508.7 771.0L1509.4 779.0L1510.1 787.0L1510.9 795.0L1511.6 803.0L1512.3 811.0L1513.0 819.0L1513.8 827.0L1514.5 835.0L1515.2 843.0L1515.9 851.0L1516.6 859.0L1517.4 867.0L1518.1 875.0L1518.8 883.0L1519.6 891.0L1520.3 899.0L1521.1 907.0L1521.8 915.0L1522.5 923.0L1523.3 931.0L1524.0 939.0L1524.8 947.0L1525.5 955.0L1526.3 963.0L1527.0 971.0L1527.8 979.0L1528.5 987.0L1529.3 995.0L1530.0 1003.0L1530.8 1011.0L1531.5 1019.0L1532.2 1027.0L1533.0 1035.0L1533.7 1043.0L1534.5 1051.0L1535.2 1059.0L1535.8 1067.0L1536.3 1075.0L1536.9 1083.0L1537.6 1091.0L1538.4 1099.0L1539.3 1107.0L1540.3 1115.0L1541.4 1123.0L1542.5 1131.0L1543.8 1139.0L1545.8 1147.0L1547.8 1155.0L1549.9 1163.0L1551.9 1171.0L1554.6 1179.0L1557.3 1187.0L1558.7 1191.2L1563.7 1191.2L1562.3 1187.0L1559.6 1179.0L1556.9 1171.0L1554.9 1163.0L1552.8 1155.0L1550.8 1147.0L1548.8 1139.0L1547.5 1131.0L1546.4 1123.0L1545.3 1115.0L1544.3 1107.0L1543.4 1099.0L1542.6 1091.0L1541.9 1083.0L1541.3 1075.0L1540.8 1067.0L1540.2 1059.0L1539.5 1051.0L1538.7 1043.0L1538.0 1035.0L1537.2 1027.0L1536.5 1019.0L1535.8 1011.0L1535.0 1003.0L1534.3 995.0L1533.5 987.0L1532.8 979.0L1532.0 971.0L1531.3 963.0L1530.5 955.0L1529.8 947.0L1529.0 939.0L1528.3 931.0L1527.5 923.0L1526.8 915.0L1526.1 907.0L1525.3 899.0L1524.6 891.0L1523.8 883.0L1523.1 875.0L1522.4 867.0L1521.6 859.0L1520.9 851.0L1520.2 843.0L1519.5 835.0L1518.8 827.0L1518.0 819.0L1517.3 811.0L1516.6 803.0L1515.9 795.0L1515.1 787.0L1514.4 779.0L1513.7 771.0L1512.8 763.0L1511.8 755.0L1510.8 747.0L1509.9 739.0L1508.9 731.0L1508.0 723.0L1507.0 715.0L1506.0 707.0L1505.1 699.0L1504.1 691.0L1503.2 683.0L1502.2 675.0L1501.2 667.0L1500.1 659.0L1498.8 651.0L1497.6 643.0L1496.3 635.0L1494.9 627.0L1493.5 619.0L1492.2 611.0L1490.8 603.0L1489.0 595.0L1487.3 587.0L1485.5 579.0L1483.7 571.0L1481.8 563.0L1479.8 555.0L1477.7 547.0L1475.7 539.0L1473.8 531.0L1472.3 523.0L1470.8 515.0Z" fill="#000000"/>
<path d="M1560.0 1195.0L1552.0 1171.5L1543.3 1137.0L1539.0 1105.0L1537.0 1085.0L1543.0 1085.0L1552.0 1115.0L1559.0 1138.0L1568.0 1152.0L1568.0 1195.0Z" fill="#000000"/>
<path d="M240.5 217.9L243.5 220.2L246.5 222.4L249.5 224.7L251.5 226.2L251.5 243.2L249.5 241.6L246.5 239.4L243.5 237.1L240.5 234.8ZM260.5 233.0L263.5 235.3L266.5 237.6L269.5 239.9L271.5 241.4L271.5 258.3L269.5 256.8L266.5 254.5L263.5 252.2L260.5 250.0ZM280.0 247.8L283.0 250.1L286.0 252.4L289.0 254.6L291.0 256.1L291.0 273.1L289.0 271.6L286.0 269.3L283.0 267.0L280.0 264.7ZM300.0 263.0L303.0 265.2L306.0 267.5L309.0 269.8L310.5 270.9L310.5 287.9L309.0 286.7L306.0 284.5L303.0 282.2L300.0 279.9ZM319.5 277.7L322.5 280.0L325.5 282.3L328.5 284.6L330.5 286.1L330.5 303.0L328.5 301.5L325.5 299.2L322.5 297.0L319.5 294.7ZM339.5 292.9L342.5 295.2L345.5 297.4L348.5 299.7L350.0 300.9L350.0 317.8L348.5 316.7L345.5 314.4L342.5 312.1L339.5 309.8ZM359.0 307.7L362.0 309.9L365.0 312.2L368.0 314.5L370.0 316.0L370.0 332.9L368.0 331.4L365.0 329.2L362.0 326.9L359.0 324.6ZM379.0 322.8L382.0 325.1L385.0 327.4L388.0 329.6L389.5 330.8L389.5 347.7L388.0 346.6L385.0 344.3L382.0 342.0L379.0 339.8ZM398.5 337.5L401.5 339.8L404.5 342.1L407.5 344.5L409.5 346.1L409.5 363.2L407.5 361.6L404.5 359.2L401.5 356.9L398.5 354.6ZM418.6 353.3L421.6 355.7L424.6 358.1L427.6 360.6L429.1 361.8L429.1 379.1L427.6 377.9L424.6 375.5L421.6 373.0L418.6 370.6ZM438.2 369.1L441.2 371.5L444.2 373.9L447.2 376.4L448.7 377.6L448.7 394.9L447.2 393.7L444.2 391.3L441.2 388.8L438.2 386.4ZM457.8 384.9L460.8 387.3L463.8 389.7L466.8 392.2L468.8 393.8L468.8 411.1L466.8 409.5L463.8 407.1L460.8 404.6L457.8 402.2ZM477.4 400.8L480.4 403.2L483.4 405.6L486.4 407.9L488.4 409.4L488.4 426.6L486.4 425.1L483.4 422.8L480.4 420.4L477.4 417.9ZM497.4 416.4L500.4 418.6L503.4 420.9L506.4 423.2L507.9 424.3L507.9 441.3L506.4 440.1L503.4 437.9L500.4 435.6L497.4 433.3ZM516.9 431.3L519.9 433.5L522.9 435.8L525.9 438.0L528.0 439.4L528.0 456.1L525.9 454.7L522.9 452.6L519.9 450.3L516.9 448.0ZM536.5 445.6L539.6 447.7L542.6 449.8L545.6 452.0L547.7 453.4L547.7 469.9L545.6 468.5L542.6 466.4L539.6 464.2L536.5 462.1ZM556.2 459.6L559.3 461.7L562.3 463.8L565.3 465.8L567.3 467.1L567.3 483.5L565.3 482.1L562.3 480.2L559.3 478.0L556.2 475.9ZM576.4 473.1L579.4 475.1L582.4 477.1L585.4 479.1L586.9 480.1L586.9 496.2L585.4 495.2L582.4 493.2L579.4 491.3L576.4 489.3ZM596.0 486.1L599.0 488.0L602.0 490.0L605.0 491.8L606.5 492.8L606.5 508.7L605.0 507.8L602.0 506.0L599.0 504.0L596.0 502.0ZM615.6 498.4L618.6 500.2L621.6 502.0L624.7 503.9L626.2 504.8L626.2 520.6L624.7 519.6L621.6 517.8L618.6 516.0L615.6 514.1ZM635.2 510.3L638.3 512.1L641.3 513.9L644.3 515.8L646.3 517.0L646.3 532.9L644.3 531.6L641.3 529.7L638.3 527.9L635.2 526.1ZM654.9 522.4L658.0 524.3L661.0 526.2L664.0 527.9L666.0 529.0L666.0 544.7L664.0 543.6L661.0 541.8L658.0 540.0L654.9 538.1ZM674.7 533.7L677.7 535.3L680.8 536.9L683.8 538.5L685.8 539.6L685.8 554.8L683.8 553.8L680.8 552.2L677.7 550.6L674.7 549.0ZM694.4 544.2L697.5 545.9L700.5 547.5L703.5 548.9L705.5 549.8L705.5 564.9L703.5 564.0L700.5 562.6L697.5 561.0L694.4 559.3ZM714.5 554.0L717.5 555.3L720.5 556.7L723.5 558.2L725.0 558.9L725.0 573.8L723.5 573.1L720.5 571.6L717.5 570.2L714.5 568.9ZM734.0 563.5L737.0 565.0L740.0 566.5L743.0 567.5L745.0 568.2L745.0 582.9L743.0 582.2L740.0 581.1L737.0 579.7L734.0 578.2ZM753.5 571.4L756.5 572.5L759.5 573.5L762.5 574.5L764.5 575.2L764.5 589.5L762.5 588.8L759.5 587.8L756.5 586.7L753.5 585.7ZM773.5 578.3L776.5 579.4L779.5 580.4L782.5 581.3L784.5 582.0L784.5 596.2L782.5 595.6L779.5 594.6L776.5 593.6L773.5 592.6ZM793.0 584.7L796.0 585.7L799.0 586.6L802.0 587.5L804.0 588.0L804.0 602.1L802.0 601.6L799.0 600.7L796.0 599.8L793.0 598.8ZM813.0 590.5L816.0 591.3L819.0 592.2L822.0 593.0L823.5 593.4L823.5 607.4L822.0 607.0L819.0 606.1L816.0 605.3L813.0 604.5ZM832.5 595.7L835.5 596.3L838.5 596.9L841.5 597.5L843.5 597.9L843.5 611.6L841.5 611.2L838.5 610.6L835.5 610.1L832.5 609.5ZM852.5 599.6L855.5 600.2L858.5 600.7L861.5 601.3L863.0 601.6L863.0 615.4L861.5 615.1L858.5 614.5L855.5 613.9L852.5 613.3ZM872.0 603.3L875.0 603.7L878.0 604.2L881.0 604.6L883.0 604.9L883.0 618.6L881.0 618.3L878.0 617.8L875.0 617.4L872.0 616.9ZM892.0 606.3L895.0 606.7L898.0 607.2L901.0 607.6L902.5 607.8L902.5 621.5L901.0 621.2L898.0 620.8L895.0 620.4L892.0 619.9ZM911.5 609.2L914.5 609.6L917.5 610.0L920.5 610.5L922.5 610.8L922.5 624.4L920.5 624.1L917.5 623.7L914.5 623.3L911.5 622.8ZM931.5 612.1L934.5 612.6L937.5 613.0L940.5 613.5L942.0 613.7L942.0 627.3L940.5 627.1L937.5 626.7L934.5 626.2L931.5 625.8ZM951.0 615.1L954.0 615.5L957.0 616.0L960.0 616.1L962.0 616.2L962.0 629.8L960.0 629.7L957.0 629.5L954.0 629.1L951.0 628.6ZM971.0 616.4L974.0 616.5L977.0 616.6L980.0 616.7L981.5 616.7L981.5 630.2L980.0 630.2L977.0 630.1L974.0 630.0L971.0 629.9ZM990.5 616.9L993.5 617.0L996.5 617.1L999.5 617.1L1001.5 617.2L1001.5 630.7L999.5 630.6L996.5 630.6L993.5 630.5L990.5 630.4ZM1010.0 617.4L1013.0 617.5L1016.0 617.5L1019.0 617.6L1021.0 617.6L1021.0 631.1L1019.0 631.1L1016.0 631.0L1013.0 631.0L1010.0 630.9ZM1030.0 617.9L1033.0 617.9L1036.0 618.0L1039.0 618.1L1041.0 618.1L1041.0 631.6L1039.0 631.6L1036.0 631.5L1033.0 631.4L1030.0 631.4ZM1049.5 618.3L1052.5 618.4L1055.5 618.5L1058.5 618.5L1060.5 618.6L1060.5 632.1L1058.5 632.0L1055.5 632.0L1052.5 631.9L1049.5 631.8ZM1069.5 618.8L1072.5 618.9L1075.5 618.9L1078.5 619.0L1080.0 619.1L1080.0 632.6L1078.5 632.5L1075.5 632.5L1072.5 632.4L1069.5 632.3ZM1089.0 619.3L1092.0 619.3L1095.0 619.4L1098.0 619.5L1100.0 619.5L1100.0 633.0L1098.0 633.0L1095.0 632.9L1092.0 632.8L1089.0 632.8ZM1109.0 619.8L1112.0 619.8L1115.0 619.9L1118.0 620.0L1119.5 620.0L1119.5 633.5L1118.0 633.5L1115.0 633.4L1112.0 633.3L1109.0 633.3ZM1128.5 620.2L1131.5 620.3L1134.5 620.4L1137.5 620.4L1139.5 620.5L1139.5 634.0L1137.5 633.9L1134.5 633.9L1131.5 633.8L1128.5 633.7ZM1148.5 620.7L1151.5 620.8L1154.5 620.8L1157.5 620.9L1159.0 620.9L1159.0 634.5L1157.5 634.4L1154.5 634.3L1151.5 634.3L1148.5 634.2ZM1168.0 621.2L1171.0 621.2L1174.0 621.3L1177.0 621.4L1179.0 621.4L1179.0 634.9L1177.0 634.9L1174.0 634.8L1171.0 634.7L1168.0 634.7ZM1188.0 621.6L1191.0 621.7L1194.0 621.8L1197.0 621.9L1198.5 621.9L1198.5 635.4L1197.0 635.4L1194.0 635.3L1191.0 635.2L1188.0 635.1ZM1207.5 621.5L1210.5 621.3L1213.5 621.1L1216.5 620.9L1218.5 620.8L1218.5 634.4L1216.5 634.5L1213.5 634.6L1210.5 634.8L1207.5 635.0ZM1227.5 620.3L1230.5 620.1L1233.5 619.9L1236.5 619.8L1238.0 619.7L1238.0 633.2L1236.5 633.3L1233.5 633.5L1230.5 633.6L1227.5 633.8ZM1247.0 619.1L1250.0 619.0L1253.0 618.8L1256.0 618.6L1258.0 618.5L1258.0 632.0L1256.0 632.1L1253.0 632.3L1250.0 632.5L1247.0 632.7ZM1266.5 618.0L1269.5 617.8L1272.5 617.6L1275.5 617.5L1277.5 617.3L1277.5 630.9L1275.5 631.0L1272.5 631.2L1269.5 631.3L1266.5 631.5ZM1286.5 616.8L1289.5 616.6L1292.5 616.5L1295.5 616.3L1297.0 616.2L1297.0 629.7L1295.5 629.8L1292.5 630.0L1289.5 630.2L1286.5 630.3ZM1306.0 615.5L1309.0 615.3L1312.0 615.2L1315.0 614.2L1317.0 613.3L1317.0 627.1L1315.0 628.0L1312.0 628.9L1309.0 629.1L1306.0 629.3ZM1326.0 608.7L1329.0 607.3L1332.0 605.9L1335.0 604.6L1336.5 603.9L1336.5 618.7L1335.0 619.4L1332.0 620.8L1329.0 622.1L1326.0 623.5ZM1345.5 599.8L1348.5 598.4L1351.5 597.1L1354.5 595.7L1356.5 594.8L1356.5 609.6L1354.5 610.5L1351.5 611.9L1348.5 613.3L1345.5 614.6ZM1365.5 588.6L1368.5 586.6L1371.5 584.5L1374.5 582.4L1376.0 581.4L1376.0 597.8L1374.5 598.8L1371.5 600.9L1368.5 603.0L1365.5 605.0ZM1385.0 575.2L1388.0 573.1L1391.0 571.1L1394.0 569.0L1396.0 567.6L1396.0 584.0L1394.0 585.4L1391.0 587.5L1388.0 589.5L1385.0 591.6ZM1405.0 559.1L1408.0 556.3L1411.0 553.5L1414.0 550.7L1415.5 549.3L1415.5 567.8L1414.0 569.2L1411.0 572.0L1408.0 574.8L1405.0 577.6ZM1424.5 540.9L1427.5 538.1L1430.5 535.3L1433.5 532.4L1435.5 530.5L1435.5 549.1L1433.5 551.0L1430.5 553.8L1427.5 556.6L1424.5 559.4ZM1444.5 523.2L1447.5 520.3L1450.5 518.5L1453.5 516.9L1455.0 516.1L1455.0 532.4L1453.5 533.2L1450.5 534.8L1447.5 536.6L1444.5 539.4ZM1464.0 513.8L1467.0 514.0L1470.0 514.2L1470.0 514.2L1470.0 527.8L1470.0 527.8L1467.0 527.6L1464.0 527.3Z" fill="#009a46"/>
<path d="M240.5 202.9L243.5 205.2L246.5 207.4L249.5 209.7L251.5 211.2L251.5 228.1L249.5 226.6L246.5 224.3L243.5 222.1L240.5 219.8ZM260.5 218.0L263.5 220.3L266.5 222.5L269.5 224.8L271.5 226.3L271.5 243.2L269.5 241.7L266.5 239.4L263.5 237.2L260.5 234.9ZM280.0 232.7L283.0 235.0L286.0 237.3L289.0 239.5L291.0 241.0L291.0 257.9L289.0 256.4L286.0 254.2L283.0 251.9L280.0 249.6ZM300.0 247.8L303.0 250.1L306.0 252.4L309.0 254.6L310.5 255.7L310.5 272.7L309.0 271.5L306.0 269.3L303.0 267.0L300.0 264.7ZM319.5 262.5L322.5 264.8L325.5 267.1L328.5 269.3L330.5 270.8L330.5 287.8L328.5 286.3L325.5 284.0L322.5 281.7L319.5 279.5ZM339.5 277.6L342.5 279.9L345.5 282.2L348.5 284.4L350.0 285.6L350.0 302.5L348.5 301.4L345.5 299.1L342.5 296.8L339.5 294.6ZM359.0 292.4L362.0 294.6L365.0 296.9L368.0 299.2L370.0 300.7L370.0 317.6L368.0 316.1L365.0 313.8L362.0 311.5L359.0 309.3ZM379.0 307.5L382.0 309.7L385.0 312.0L388.0 314.3L389.5 315.4L389.5 332.3L388.0 331.2L385.0 328.9L382.0 326.6L379.0 324.4ZM398.5 322.1L401.5 324.4L404.5 326.6L407.5 329.0L409.5 330.6L409.5 347.7L407.5 346.1L404.5 343.7L401.5 341.4L398.5 339.2ZM418.6 337.8L421.6 340.2L424.6 342.6L427.6 345.1L429.1 346.3L429.1 363.6L427.6 362.4L424.6 360.0L421.6 357.5L418.6 355.1ZM438.2 353.5L441.2 356.0L444.2 358.4L447.2 360.8L448.7 362.0L448.7 379.3L447.2 378.1L444.2 375.7L441.2 373.3L438.2 370.9ZM457.8 369.3L460.8 371.7L463.8 374.1L466.8 376.6L468.8 378.2L468.8 395.5L466.8 393.9L463.8 391.4L460.8 389.0L457.8 386.6ZM477.4 385.1L480.4 387.5L483.4 390.0L486.4 392.2L488.4 393.7L488.4 410.9L486.4 409.4L483.4 407.1L480.4 404.7L477.4 402.3ZM497.4 400.7L500.4 402.9L503.4 405.2L506.4 407.5L507.9 408.6L507.9 425.5L506.4 424.4L503.4 422.1L500.4 419.9L497.4 417.6ZM516.9 415.5L519.9 417.8L522.9 420.1L525.9 422.2L528.0 423.6L528.0 440.3L525.9 438.9L522.9 436.8L519.9 434.5L516.9 432.2ZM536.5 429.8L539.6 431.9L542.6 434.0L545.6 436.1L547.7 437.6L547.7 454.1L545.6 452.6L542.6 450.5L539.6 448.4L536.5 446.3ZM556.2 443.7L559.3 445.8L562.3 447.9L565.3 449.9L567.3 451.2L567.3 467.6L565.3 466.2L562.3 464.3L559.3 462.1L556.2 460.0ZM576.4 457.2L579.4 459.2L582.4 461.2L585.4 463.1L586.9 464.1L586.9 480.2L585.4 479.2L582.4 477.3L579.4 475.3L576.4 473.3ZM596.0 470.1L599.0 472.0L602.0 474.0L605.0 475.8L606.5 476.8L606.5 492.7L605.0 491.8L602.0 490.0L599.0 488.0L596.0 486.1ZM615.6 482.4L618.6 484.2L621.6 486.0L624.7 487.9L626.2 488.8L626.2 504.6L624.7 503.6L621.6 501.8L618.6 500.0L615.6 498.1ZM635.2 494.3L638.3 496.1L641.3 497.9L644.3 499.8L646.3 501.0L646.3 516.9L644.3 515.6L641.3 513.7L638.3 511.9L635.2 510.1ZM654.9 506.4L658.0 508.3L661.0 510.2L664.0 511.9L666.0 513.0L666.0 528.7L664.0 527.6L661.0 525.8L658.0 524.0L654.9 522.1ZM674.7 517.7L677.7 519.3L680.8 520.9L683.8 522.5L685.8 523.6L685.8 538.8L683.8 537.8L680.8 536.2L677.7 534.6L674.7 533.0ZM694.4 528.2L697.5 529.9L700.5 531.5L703.5 532.9L705.5 533.8L705.5 548.9L703.5 548.0L700.5 546.6L697.5 545.0L694.4 543.3ZM714.5 538.0L717.5 539.3L720.5 540.7L723.5 542.2L725.0 542.9L725.0 557.8L723.5 557.1L720.5 555.6L717.5 554.2L714.5 552.9ZM734.0 547.5L737.0 549.0L740.0 550.5L743.0 551.5L745.0 552.2L745.0 566.9L743.0 566.2L740.0 565.1L737.0 563.7L734.0 562.2ZM753.5 555.4L756.5 556.4L759.5 557.4L762.5 558.5L764.5 559.1L764.5 573.4L762.5 572.7L759.5 571.7L756.5 570.7L753.5 569.6ZM773.5 562.1L776.5 563.2L779.5 564.2L782.5 565.3L784.5 566.0L784.5 580.4L782.5 579.6L779.5 578.5L776.5 577.5L773.5 576.5ZM793.0 569.3L796.0 570.4L799.0 571.6L802.0 572.5L804.0 573.0L804.0 587.3L802.0 586.7L799.0 585.8L796.0 584.7L793.0 583.5ZM813.0 575.5L816.0 576.3L819.0 577.1L822.0 577.9L823.5 578.3L823.5 592.3L822.0 591.9L819.0 591.1L816.0 590.3L813.0 589.5ZM832.5 580.7L835.5 581.4L838.5 582.0L841.5 582.7L843.5 583.2L843.5 597.0L841.5 596.6L838.5 595.9L835.5 595.2L832.5 594.5ZM852.5 585.2L855.5 585.9L858.5 586.6L861.5 587.2L863.0 587.6L863.0 601.4L861.5 601.1L858.5 600.4L855.5 599.7L852.5 599.0ZM872.0 589.6L875.0 590.2L878.0 590.8L881.0 591.4L883.0 591.7L883.0 605.5L881.0 605.1L878.0 604.5L875.0 603.9L872.0 603.3ZM892.0 593.5L895.0 594.1L898.0 594.7L901.0 595.3L902.5 595.6L902.5 609.3L901.0 609.0L898.0 608.4L895.0 607.9L892.0 607.3ZM911.5 597.3L914.5 597.9L917.5 598.5L920.5 599.1L922.5 599.5L922.5 613.2L920.5 612.8L917.5 612.3L914.5 611.7L911.5 611.1ZM931.5 601.2L934.5 601.8L937.5 602.4L940.5 603.0L942.0 603.3L942.0 617.1L940.5 616.8L937.5 616.2L934.5 615.6L931.5 615.0ZM951.0 605.1L954.0 605.7L957.0 606.3L960.0 606.6L962.0 606.7L962.0 620.4L960.0 620.2L957.0 619.9L954.0 619.4L951.0 618.8ZM971.0 607.3L974.0 607.5L977.0 607.6L980.0 607.8L981.5 607.9L981.5 621.4L980.0 621.3L977.0 621.1L974.0 621.0L971.0 620.8ZM990.5 608.4L993.5 608.5L996.5 608.7L999.5 608.9L1001.5 609.0L1001.5 622.5L999.5 622.4L996.5 622.2L993.5 622.1L990.5 621.9ZM1010.0 609.5L1013.0 609.6L1016.0 609.8L1019.0 610.0L1021.0 610.1L1021.0 623.6L1019.0 623.5L1016.0 623.3L1013.0 623.2L1010.0 623.0ZM1030.0 610.6L1033.0 610.8L1036.0 610.9L1039.0 611.1L1041.0 611.2L1041.0 624.7L1039.0 624.6L1036.0 624.5L1033.0 624.3L1030.0 624.1ZM1049.5 611.7L1052.5 611.9L1055.5 612.0L1058.5 612.2L1060.5 612.3L1060.5 625.8L1058.5 625.7L1055.5 625.5L1052.5 625.4L1049.5 625.2ZM1069.5 612.8L1072.5 613.0L1075.5 613.1L1078.5 613.3L1080.0 613.4L1080.0 626.9L1078.5 626.8L1075.5 626.7L1072.5 626.5L1069.5 626.3ZM1089.0 613.9L1092.0 614.1L1095.0 614.2L1098.0 614.4L1100.0 614.5L1100.0 628.0L1098.0 627.9L1095.0 627.8L1092.0 627.6L1089.0 627.4ZM1109.0 615.0L1112.0 615.2L1115.0 615.4L1118.0 615.5L1119.5 615.6L1119.5 629.1L1118.0 629.1L1115.0 628.9L1112.0 628.7L1109.0 628.5ZM1128.5 616.1L1131.5 616.3L1134.5 616.5L1137.5 616.6L1139.5 616.7L1139.5 630.3L1137.5 630.1L1134.5 630.0L1131.5 629.8L1128.5 629.6ZM1148.5 617.2L1151.5 617.4L1154.5 617.6L1157.5 617.7L1159.0 617.8L1159.0 631.3L1157.5 631.3L1154.5 631.1L1151.5 630.9L1148.5 630.8ZM1168.0 618.3L1171.0 618.5L1174.0 618.7L1177.0 618.8L1179.0 619.0L1179.0 632.5L1177.0 632.4L1174.0 632.2L1171.0 632.0L1168.0 631.9ZM1188.0 619.5L1191.0 619.6L1194.0 619.8L1197.0 620.0L1198.5 620.0L1198.5 633.6L1197.0 633.5L1194.0 633.3L1191.0 633.1L1188.0 633.0ZM1207.5 619.3L1210.5 619.0L1213.5 618.7L1216.5 618.4L1218.5 618.2L1218.5 631.7L1216.5 631.9L1213.5 632.3L1210.5 632.6L1207.5 632.9ZM1227.5 617.2L1230.5 616.9L1233.5 616.6L1236.5 616.3L1238.0 616.1L1238.0 629.7L1236.5 629.8L1233.5 630.2L1230.5 630.5L1227.5 630.8ZM1247.0 615.2L1250.0 614.8L1253.0 614.5L1256.0 614.2L1258.0 614.0L1258.0 627.6L1256.0 627.8L1253.0 628.1L1250.0 628.4L1247.0 628.7ZM1266.5 613.1L1269.5 612.8L1272.5 612.5L1275.5 612.2L1277.5 611.9L1277.5 625.5L1275.5 625.7L1272.5 626.0L1269.5 626.4L1266.5 626.7ZM1286.5 611.0L1289.5 610.7L1292.5 610.4L1295.5 610.1L1297.0 609.9L1297.0 623.5L1295.5 623.6L1292.5 623.9L1289.5 624.3L1286.5 624.6ZM1306.0 608.8L1309.0 608.5L1312.0 608.2L1315.0 607.2L1317.0 606.3L1317.0 620.2L1315.0 621.0L1312.0 622.0L1309.0 622.3L1306.0 622.7ZM1326.0 602.0L1329.0 600.6L1332.0 599.3L1335.0 598.0L1336.5 597.4L1336.5 612.1L1335.0 612.8L1332.0 614.1L1329.0 615.4L1326.0 616.7ZM1345.5 593.4L1348.5 592.1L1351.5 590.8L1354.5 589.5L1356.5 588.6L1356.5 603.4L1354.5 604.2L1351.5 605.5L1348.5 606.8L1345.5 608.2ZM1365.5 582.2L1368.5 580.0L1371.5 577.9L1374.5 575.7L1376.0 574.7L1376.0 591.3L1374.5 592.4L1371.5 594.5L1368.5 596.7L1365.5 598.8ZM1385.0 568.2L1388.0 566.0L1391.0 563.9L1394.0 561.7L1396.0 560.3L1396.0 576.9L1394.0 578.4L1391.0 580.5L1388.0 582.7L1385.0 584.8ZM1405.0 551.9L1408.0 549.1L1411.0 546.4L1414.0 543.6L1415.5 542.2L1415.5 560.6L1414.0 562.0L1411.0 564.8L1408.0 567.5L1405.0 570.3ZM1424.5 533.6L1427.5 530.9L1430.5 528.1L1433.4 525.0L1435.4 523.0L1435.4 541.9L1433.4 543.9L1430.5 546.9L1427.5 549.8L1424.5 552.5ZM1443.6 515.6L1446.5 512.5L1449.5 510.2L1452.5 508.7L1454.5 507.6L1454.5 524.3L1452.5 525.4L1449.5 527.0L1446.5 529.3L1443.6 532.3ZM1463.5 505.4L1466.5 505.8L1469.5 506.1L1470.0 506.2L1470.0 519.8L1469.5 519.7L1466.5 519.4L1463.5 519.0Z" fill="#0000ff"/>
<path d="M240.5 177.9L243.5 180.2L246.5 182.4L249.5 184.7L251.5 186.2L251.5 203.1L249.5 201.6L246.5 199.3L243.5 197.1L240.5 194.8ZM260.5 193.0L263.5 195.3L266.5 197.5L269.5 199.8L271.5 201.3L271.5 218.2L269.5 216.7L266.5 214.4L263.5 212.2L260.5 209.9ZM280.0 207.7L283.0 210.0L286.0 212.2L289.0 214.5L291.0 216.0L291.0 232.9L289.0 231.4L286.0 229.2L283.0 226.9L280.0 224.6ZM300.0 222.8L303.0 225.1L306.0 227.3L309.0 229.6L310.5 230.7L310.5 247.6L309.0 246.5L306.0 244.3L303.0 242.0L300.0 239.7ZM319.5 237.5L322.5 239.8L325.5 242.1L328.5 244.3L330.5 245.8L330.5 262.7L328.5 261.2L325.5 259.0L322.5 256.7L319.5 254.4ZM339.5 252.6L342.5 254.9L345.5 257.1L348.5 259.4L350.0 260.5L350.0 277.5L348.5 276.3L345.5 274.1L342.5 271.8L339.5 269.5ZM359.0 267.3L362.0 269.6L365.0 271.9L368.0 274.1L370.0 275.6L370.0 292.6L368.0 291.0L365.0 288.8L362.0 286.5L359.0 284.3ZM379.0 282.4L382.0 284.7L385.0 287.0L388.0 289.2L389.5 290.4L389.5 307.3L388.0 306.1L385.0 303.9L382.0 301.6L379.0 299.3ZM398.5 297.1L401.5 299.3L404.5 301.6L407.5 304.0L409.5 305.6L409.5 322.7L407.5 321.1L404.5 318.7L401.5 316.4L398.5 314.1ZM418.6 312.8L421.6 315.2L424.6 317.6L427.6 320.0L429.1 321.2L429.1 338.5L427.6 337.3L424.6 334.9L421.6 332.5L418.6 330.1ZM438.2 328.5L441.2 330.9L444.2 333.3L447.2 335.8L448.7 337.0L448.7 354.3L447.2 353.1L444.2 350.7L441.2 348.2L438.2 345.8ZM457.8 344.2L460.8 346.7L463.8 349.1L466.8 351.5L468.8 353.1L468.8 370.4L466.8 368.8L463.8 366.4L460.8 364.0L457.8 361.5ZM477.4 360.1L480.4 362.5L483.4 364.9L486.4 367.2L488.4 368.7L488.4 385.8L486.4 384.3L483.4 382.0L480.4 379.6L477.4 377.2ZM497.4 375.6L500.4 377.9L503.4 380.1L506.4 382.4L507.9 383.5L507.9 400.5L506.4 399.3L503.4 397.1L500.4 394.8L497.4 392.5ZM516.9 390.5L519.9 392.7L522.9 395.0L525.9 397.1L528.0 398.5L528.0 415.3L525.9 413.9L522.9 411.7L519.9 409.5L516.9 407.2ZM536.5 404.7L539.6 406.8L542.6 408.9L545.6 411.1L547.7 412.5L547.7 429.0L545.6 427.6L542.6 425.4L539.6 423.3L536.5 421.2ZM556.2 418.6L559.3 420.7L562.3 422.9L565.3 424.8L567.3 426.2L567.3 442.5L565.3 441.2L562.3 439.2L559.3 437.1L556.2 434.9ZM576.4 432.2L579.4 434.1L582.4 436.1L585.4 438.0L586.9 439.0L586.9 455.1L585.4 454.2L582.4 452.2L579.4 450.2L576.4 448.3ZM596.0 444.9L599.0 446.9L602.0 448.9L605.0 450.8L606.5 451.8L606.5 467.9L605.0 466.9L602.0 465.0L599.0 463.0L596.0 461.0ZM615.6 457.6L618.6 459.6L621.6 461.5L624.7 463.5L626.2 464.4L626.2 480.5L624.7 479.5L621.6 477.6L618.6 475.6L615.6 473.7ZM635.2 470.2L638.3 472.2L641.3 474.1L644.3 476.1L646.3 477.4L646.3 493.5L644.3 492.2L641.3 490.2L638.3 488.2L635.2 486.3ZM654.9 483.1L658.0 485.1L661.0 487.1L664.0 488.9L666.0 490.0L666.0 506.0L664.0 504.9L661.0 503.0L658.0 501.0L654.9 499.0ZM674.7 495.1L677.7 496.8L680.8 498.5L683.8 500.0L685.8 501.0L685.8 516.3L683.8 515.3L680.8 513.8L677.7 512.1L674.7 510.4ZM694.4 505.5L697.5 507.0L700.5 508.5L703.5 509.8L705.5 510.7L705.5 525.5L703.5 524.7L700.5 523.4L697.5 521.9L694.4 520.4ZM714.5 514.5L717.5 515.7L720.5 517.0L723.5 518.4L725.0 519.0L725.0 533.8L723.5 533.1L720.5 531.7L717.5 530.5L714.5 529.2ZM734.0 523.3L737.0 524.7L740.0 526.1L743.0 526.9L745.0 527.5L745.0 541.9L743.0 541.3L740.0 540.5L737.0 539.1L734.0 537.8ZM753.5 530.0L756.5 530.9L759.5 531.7L762.5 532.5L764.5 533.0L764.5 547.0L762.5 546.5L759.5 545.7L756.5 544.9L753.5 544.0ZM773.5 535.5L776.5 536.3L779.5 537.1L782.5 537.8L784.5 538.3L784.5 552.2L782.5 551.7L779.5 551.0L776.5 550.2L773.5 549.4ZM793.0 540.4L796.0 541.1L799.0 541.9L802.0 542.4L804.0 542.7L804.0 556.5L802.0 556.2L799.0 555.7L796.0 554.9L793.0 554.2ZM813.0 544.1L816.0 544.5L819.0 545.0L822.0 545.4L823.5 545.6L823.5 559.3L822.0 559.0L819.0 558.6L816.0 558.2L813.0 557.7ZM832.5 546.8L835.5 547.0L838.5 547.1L841.5 547.3L843.5 547.5L843.5 561.0L841.5 560.9L838.5 560.7L835.5 560.5L832.5 560.3ZM852.5 548.0L855.5 548.2L858.5 548.4L861.5 548.6L863.0 548.7L863.0 562.2L861.5 562.1L858.5 561.9L855.5 561.7L852.5 561.6ZM872.0 549.2L875.0 549.3L878.0 549.3L881.0 549.4L883.0 549.4L883.0 563.0L881.0 562.9L878.0 562.8L875.0 562.8L872.0 562.7ZM892.0 549.7L895.0 549.7L898.0 549.8L901.0 549.9L902.5 549.9L902.5 563.4L901.0 563.4L898.0 563.3L895.0 563.2L892.0 563.2ZM911.5 550.1L914.5 550.2L917.5 550.3L920.5 550.3L922.5 550.4L922.5 563.9L920.5 563.9L917.5 563.8L914.5 563.7L911.5 563.6ZM931.5 550.6L934.5 550.7L937.5 550.8L940.5 550.8L942.0 550.9L942.0 564.4L940.5 564.3L937.5 564.3L934.5 564.2L931.5 564.1ZM951.0 551.1L954.0 551.2L957.0 551.2L960.0 551.3L962.0 551.3L962.0 564.8L960.0 564.8L957.0 564.7L954.0 564.7L951.0 564.6ZM971.0 551.3L974.0 551.3L977.0 551.3L980.0 551.3L981.5 551.3L981.5 564.8L980.0 564.8L977.0 564.8L974.0 564.8L971.0 564.8ZM990.5 551.3L993.5 551.3L996.5 551.3L999.5 551.3L1001.5 551.3L1001.5 564.8L999.5 564.8L996.5 564.8L993.5 564.8L990.5 564.8ZM1010.0 551.4L1013.0 551.4L1016.0 551.4L1019.0 551.4L1021.0 551.4L1021.0 564.9L1019.0 564.9L1016.0 564.9L1013.0 564.9L1010.0 564.9ZM1030.0 551.4L1033.0 551.4L1036.0 551.4L1039.0 551.4L1041.0 551.4L1041.0 564.9L1039.0 564.9L1036.0 564.9L1033.0 564.9L1030.0 564.9ZM1049.5 551.4L1052.5 551.4L1055.5 551.5L1058.5 551.5L1060.5 551.5L1060.5 565.0L1058.5 565.0L1055.5 565.0L1052.5 564.9L1049.5 564.9ZM1069.5 551.5L1072.5 551.5L1075.5 551.5L1078.5 551.5L1080.0 551.5L1080.0 565.0L1078.5 565.0L1075.5 565.0L1072.5 565.0L1069.5 565.0ZM1089.0 551.5L1092.0 551.5L1095.0 551.5L1098.0 551.5L1100.0 551.5L1100.0 565.0L1098.0 565.0L1095.0 565.0L1092.0 565.0L1089.0 565.0ZM1109.0 551.6L1112.0 551.6L1115.0 551.6L1118.0 551.6L1119.5 551.6L1119.5 565.1L1118.0 565.1L1115.0 565.1L1112.0 565.1L1109.0 565.1ZM1128.5 551.6L1131.5 551.6L1134.5 551.6L1137.5 551.6L1139.5 551.6L1139.5 565.1L1137.5 565.1L1134.5 565.1L1131.5 565.1L1128.5 565.1ZM1148.5 551.6L1151.5 551.6L1154.5 551.7L1157.5 551.7L1159.0 551.7L1159.0 565.2L1157.5 565.2L1154.5 565.2L1151.5 565.1L1148.5 565.1ZM1168.0 551.7L1171.0 551.7L1174.0 551.7L1177.0 551.7L1179.0 551.7L1179.0 565.2L1177.0 565.2L1174.0 565.2L1171.0 565.2L1168.0 565.2ZM1188.0 551.7L1191.0 551.7L1194.0 551.7L1197.0 551.7L1198.5 551.7L1198.5 565.2L1197.0 565.2L1194.0 565.2L1191.0 565.2L1188.0 565.2ZM1207.5 551.5L1210.5 551.4L1213.5 551.3L1216.5 551.2L1218.5 551.2L1218.5 564.7L1216.5 564.7L1213.5 564.8L1210.5 564.9L1207.5 565.0ZM1227.5 550.9L1230.5 550.8L1233.5 550.7L1236.5 550.6L1238.0 550.6L1238.0 564.1L1236.5 564.1L1233.5 564.2L1230.5 564.3L1227.5 564.4ZM1247.0 550.3L1250.0 550.2L1253.0 550.1L1256.0 550.0L1258.0 550.0L1258.0 563.5L1256.0 563.5L1253.0 563.6L1250.0 563.7L1247.0 563.8ZM1266.5 549.7L1269.5 549.6L1272.5 549.5L1275.5 549.4L1277.5 549.3L1277.5 562.9L1275.5 562.9L1272.5 563.0L1269.5 563.1L1266.5 563.2ZM1286.5 549.1L1289.5 549.0L1292.5 548.9L1295.5 548.8L1297.0 548.7L1297.0 562.2L1295.5 562.3L1292.5 562.4L1289.5 562.5L1286.5 562.6ZM1306.0 548.4L1309.0 548.3L1312.0 548.2L1315.0 547.8L1317.0 547.3L1317.0 560.9L1315.0 561.3L1312.0 561.8L1309.0 561.9L1306.0 562.0ZM1326.0 545.3L1329.0 544.6L1332.0 544.0L1335.0 543.3L1336.5 543.0L1336.5 556.8L1335.0 557.1L1332.0 557.8L1329.0 558.4L1326.0 559.1ZM1345.5 541.0L1348.5 540.4L1351.5 539.7L1354.5 539.1L1356.5 538.6L1356.5 552.4L1354.5 552.9L1351.5 553.5L1348.5 554.2L1345.5 554.8ZM1365.5 534.9L1368.5 533.5L1371.5 532.2L1374.5 530.8L1376.0 530.1L1376.0 545.0L1374.5 545.6L1371.5 547.0L1368.5 548.3L1365.5 549.7ZM1385.0 526.1L1388.0 524.7L1391.0 523.4L1394.0 522.0L1396.0 521.1L1396.0 535.9L1394.0 536.8L1391.0 538.2L1388.0 539.5L1385.0 540.9ZM1405.0 513.8L1408.0 511.4L1411.0 508.9L1414.0 506.4L1415.5 505.2L1415.5 522.7L1414.0 523.9L1411.0 526.4L1408.0 528.9L1405.0 531.4ZM1424.5 497.7L1427.5 495.2L1430.5 492.7L1433.5 490.1L1435.5 488.4L1435.5 506.0L1433.5 507.8L1430.5 510.3L1427.5 512.8L1424.5 515.3ZM1444.5 481.6L1447.5 479.1L1450.5 477.5L1453.5 476.1L1455.0 475.5L1455.0 491.1L1453.5 491.8L1450.5 493.2L1447.5 494.7L1444.5 497.3ZM1464.0 473.5L1467.0 473.9L1470.0 474.2L1470.0 474.2L1470.0 487.8L1470.0 487.8L1467.0 487.5L1464.0 487.1Z" fill="#ff8000"/>
<path d="M240.5 148.9L243.5 151.2L246.5 153.4L249.5 155.7L251.5 157.2L251.5 174.2L249.5 172.6L246.5 170.4L243.5 168.1L240.5 165.8ZM260.5 164.0L263.5 166.3L266.5 168.6L269.5 170.9L271.5 172.4L271.5 189.3L269.5 187.8L266.5 185.5L263.5 183.2L260.5 181.0ZM280.0 178.8L283.0 181.1L286.0 183.4L289.0 185.6L291.0 187.1L291.0 204.1L289.0 202.6L286.0 200.3L283.0 198.0L280.0 195.7ZM300.0 194.0L303.0 196.2L306.0 198.5L309.0 200.8L310.5 201.9L310.5 218.9L309.0 217.7L306.0 215.5L303.0 213.2L300.0 210.9ZM319.5 208.7L322.5 211.0L325.5 213.3L328.5 215.6L330.5 217.1L330.5 234.0L328.5 232.5L325.5 230.2L322.5 228.0L319.5 225.7ZM339.5 223.9L342.5 226.2L345.5 228.4L348.5 230.7L350.0 231.9L350.0 248.8L348.5 247.7L345.5 245.4L342.5 243.1L339.5 240.8ZM359.0 238.7L362.0 240.9L365.0 243.2L368.0 245.5L370.0 247.0L370.0 263.9L368.0 262.4L365.0 260.2L362.0 257.9L359.0 255.6ZM379.0 253.8L382.0 256.1L385.0 258.4L388.0 260.6L389.5 261.8L389.5 278.7L388.0 277.6L385.0 275.3L382.0 273.0L379.0 270.8ZM398.5 268.5L401.5 270.8L404.5 273.1L407.5 275.5L409.5 277.1L409.5 294.2L407.5 292.6L404.5 290.2L401.5 287.9L398.5 285.6ZM418.6 284.3L421.6 286.7L424.6 289.1L427.6 291.6L429.1 292.8L429.1 310.1L427.6 308.9L424.6 306.5L421.6 304.0L418.6 301.6ZM438.2 300.1L441.2 302.5L444.2 304.9L447.2 307.4L448.7 308.6L448.7 325.9L447.2 324.7L444.2 322.3L441.2 319.8L438.2 317.4ZM457.8 315.9L460.8 318.3L463.8 320.7L466.8 323.2L468.8 324.8L468.8 342.1L466.8 340.5L463.8 338.1L460.8 335.6L457.8 333.2ZM477.4 331.8L480.4 334.2L483.4 336.6L486.4 338.9L488.4 340.4L488.4 357.6L486.4 356.1L483.4 353.8L480.4 351.4L477.4 348.9ZM497.4 347.4L500.4 349.6L503.4 351.9L506.4 354.2L507.9 355.3L507.9 372.3L506.4 371.1L503.4 368.9L500.4 366.6L497.4 364.3ZM516.9 362.3L519.9 364.5L522.9 366.8L525.9 369.0L528.0 370.4L528.0 387.1L525.9 385.7L522.9 383.6L519.9 381.3L516.9 379.0ZM536.5 376.6L539.6 378.7L542.6 380.8L545.6 383.0L547.7 384.4L547.7 400.9L545.6 399.5L542.6 397.4L539.6 395.2L536.5 393.1ZM556.2 390.6L559.3 392.7L562.3 394.8L565.3 396.8L567.3 398.1L567.3 414.5L565.3 413.1L562.3 411.2L559.3 409.0L556.2 406.9ZM576.4 404.1L579.4 406.1L582.4 408.1L585.4 410.1L586.9 411.1L586.9 427.2L585.4 426.2L582.4 424.2L579.4 422.3L576.4 420.3ZM596.0 417.0L599.0 419.0L602.0 420.9L605.0 422.9L606.5 423.9L606.5 440.0L605.0 439.0L602.0 437.1L599.0 435.1L596.0 433.1ZM615.6 429.7L618.6 431.7L621.6 433.6L624.7 435.6L626.2 436.6L626.2 452.6L624.7 451.7L621.6 449.7L618.6 447.8L615.6 445.8ZM635.2 442.4L638.3 444.4L641.3 446.3L644.3 448.3L646.3 449.6L646.3 465.7L644.3 464.4L641.3 462.4L638.3 460.4L635.2 458.5ZM654.9 455.3L658.0 457.3L661.0 459.3L664.0 461.2L666.0 462.3L666.0 478.3L664.0 477.1L661.0 475.2L658.0 473.3L654.9 471.3ZM674.7 467.4L677.7 469.1L680.8 470.8L683.8 472.4L685.8 473.4L685.8 488.7L683.8 487.7L680.8 486.1L677.7 484.4L674.7 482.7ZM694.4 477.9L697.5 479.4L700.5 480.9L703.5 482.2L705.5 483.0L705.5 497.9L703.5 497.1L700.5 495.8L697.5 494.3L694.4 492.8ZM714.5 486.9L717.5 488.2L720.5 489.4L723.5 490.8L725.0 491.5L725.0 506.2L723.5 505.5L720.5 504.2L717.5 502.9L714.5 501.6ZM734.0 495.8L737.0 497.2L740.0 498.6L743.0 499.4L745.0 500.0L745.0 514.5L743.0 513.9L740.0 513.0L737.0 511.6L734.0 510.2ZM753.5 502.6L756.5 503.5L759.5 504.3L762.5 505.2L764.5 505.7L764.5 519.7L762.5 519.2L759.5 518.4L756.5 517.5L753.5 516.7ZM773.5 508.2L776.5 509.1L779.5 509.9L782.5 510.6L784.5 511.1L784.5 525.1L782.5 524.6L779.5 523.8L776.5 523.0L773.5 522.2ZM793.0 513.4L796.0 514.1L799.0 514.9L802.0 515.4L804.0 515.6L804.0 529.4L802.0 529.2L799.0 528.6L796.0 527.9L793.0 527.1ZM813.0 516.9L816.0 517.3L819.0 517.7L822.0 518.1L823.5 518.3L823.5 531.9L822.0 531.7L819.0 531.3L816.0 530.9L813.0 530.5ZM832.5 519.4L835.5 519.5L838.5 519.7L841.5 519.8L843.5 519.9L843.5 533.4L841.5 533.3L838.5 533.2L835.5 533.0L832.5 532.9ZM852.5 520.4L855.5 520.5L858.5 520.7L861.5 520.8L863.0 520.9L863.0 534.4L861.5 534.3L858.5 534.2L855.5 534.0L852.5 533.9ZM872.0 521.3L875.0 521.3L878.0 521.3L881.0 521.4L883.0 521.4L883.0 534.9L881.0 534.9L878.0 534.8L875.0 534.8L872.0 534.8ZM892.0 521.5L895.0 521.5L898.0 521.6L901.0 521.6L902.5 521.6L902.5 535.1L901.0 535.1L898.0 535.1L895.0 535.0L892.0 535.0ZM911.5 521.7L914.5 521.8L917.5 521.8L920.5 521.8L922.5 521.8L922.5 535.3L920.5 535.3L917.5 535.3L914.5 535.3L911.5 535.2ZM931.5 521.9L934.5 522.0L937.5 522.0L940.5 522.1L942.0 522.1L942.0 535.6L940.5 535.6L937.5 535.5L934.5 535.5L931.5 535.4ZM951.0 522.2L954.0 522.2L957.0 522.2L960.0 522.3L962.0 522.3L962.0 535.8L960.0 535.8L957.0 535.7L954.0 535.7L951.0 535.7ZM971.0 522.3L974.0 522.3L977.0 522.3L980.0 522.3L981.5 522.3L981.5 535.8L980.0 535.8L977.0 535.8L974.0 535.8L971.0 535.8ZM990.5 522.3L993.5 522.3L996.5 522.3L999.5 522.3L1001.5 522.3L1001.5 535.8L999.5 535.8L996.5 535.8L993.5 535.8L990.5 535.8ZM1010.0 522.4L1013.0 522.4L1016.0 522.4L1019.0 522.4L1021.0 522.4L1021.0 535.9L1019.0 535.9L1016.0 535.9L1013.0 535.9L1010.0 535.9ZM1030.0 522.4L1033.0 522.4L1036.0 522.4L1039.0 522.4L1041.0 522.4L1041.0 535.9L1039.0 535.9L1036.0 535.9L1033.0 535.9L1030.0 535.9ZM1049.5 522.4L1052.5 522.4L1055.5 522.5L1058.5 522.5L1060.5 522.5L1060.5 536.0L1058.5 536.0L1055.5 536.0L1052.5 535.9L1049.5 535.9ZM1069.5 522.5L1072.5 522.5L1075.5 522.5L1078.5 522.5L1080.0 522.5L1080.0 536.0L1078.5 536.0L1075.5 536.0L1072.5 536.0L1069.5 536.0ZM1089.0 522.5L1092.0 522.5L1095.0 522.5L1098.0 522.5L1100.0 522.5L1100.0 536.0L1098.0 536.0L1095.0 536.0L1092.0 536.0L1089.0 536.0ZM1109.0 522.6L1112.0 522.6L1115.0 522.6L1118.0 522.6L1119.5 522.6L1119.5 536.1L1118.0 536.1L1115.0 536.1L1112.0 536.1L1109.0 536.1ZM1128.5 522.6L1131.5 522.6L1134.5 522.6L1137.5 522.6L1139.5 522.6L1139.5 536.1L1137.5 536.1L1134.5 536.1L1131.5 536.1L1128.5 536.1ZM1148.5 522.6L1151.5 522.6L1154.5 522.7L1157.5 522.7L1159.0 522.7L1159.0 536.2L1157.5 536.2L1154.5 536.2L1151.5 536.1L1148.5 536.1ZM1168.0 522.7L1171.0 522.7L1174.0 522.7L1177.0 522.7L1179.0 522.7L1179.0 536.2L1177.0 536.2L1174.0 536.2L1171.0 536.2L1168.0 536.2ZM1188.0 522.7L1191.0 522.7L1194.0 522.7L1197.0 522.7L1198.5 522.7L1198.5 536.2L1197.0 536.2L1194.0 536.2L1191.0 536.2L1188.0 536.2ZM1207.5 522.5L1210.5 522.4L1213.5 522.3L1216.5 522.2L1218.5 522.2L1218.5 535.7L1216.5 535.7L1213.5 535.8L1210.5 535.9L1207.5 536.0ZM1227.5 521.9L1230.5 521.8L1233.5 521.7L1236.5 521.6L1238.0 521.6L1238.0 535.1L1236.5 535.1L1233.5 535.2L1230.5 535.3L1227.5 535.4ZM1247.0 521.3L1250.0 521.2L1253.0 521.1L1256.0 521.0L1258.0 521.0L1258.0 534.5L1256.0 534.5L1253.0 534.6L1250.0 534.7L1247.0 534.8ZM1266.5 520.7L1269.5 520.6L1272.5 520.5L1275.5 520.4L1277.5 520.3L1277.5 533.9L1275.5 533.9L1272.5 534.0L1269.5 534.1L1266.5 534.2ZM1286.5 520.1L1289.5 520.0L1292.5 519.9L1295.5 519.8L1297.0 519.7L1297.0 533.2L1295.5 533.3L1292.5 533.4L1289.5 533.5L1286.5 533.6ZM1306.0 519.4L1309.0 519.3L1312.0 519.3L1315.0 518.8L1317.0 518.5L1317.0 532.0L1315.0 532.4L1312.0 532.8L1309.0 532.9L1306.0 533.0ZM1326.0 516.6L1329.0 516.1L1332.0 515.5L1335.0 514.9L1336.5 514.6L1336.5 528.4L1335.0 528.7L1332.0 529.2L1329.0 529.8L1326.0 530.4ZM1345.5 512.9L1348.5 512.3L1351.5 511.8L1354.5 511.2L1356.5 510.8L1356.5 524.5L1354.5 524.9L1351.5 525.5L1348.5 526.1L1345.5 526.6ZM1365.5 507.3L1368.5 506.1L1371.5 504.8L1374.5 503.5L1376.0 502.9L1376.0 517.5L1374.5 518.2L1371.5 519.4L1368.5 520.7L1365.5 522.0ZM1385.0 499.0L1388.0 497.8L1391.0 496.5L1394.0 495.2L1396.0 494.4L1396.0 509.0L1394.0 509.9L1391.0 511.2L1388.0 512.4L1385.0 513.7Z" fill="#000000"/>
<path d="M1405.0 487.4L1408.0 485.0L1411.0 482.6L1414.0 480.2L1415.5 479.0L1415.5 496.2L1414.0 497.4L1411.0 499.8L1408.0 502.2L1405.0 504.6ZM1424.5 471.7L1427.5 469.3L1430.5 466.9L1433.5 464.4L1435.5 462.7L1435.5 480.1L1433.5 481.8L1430.5 484.3L1427.5 486.7L1424.5 489.1ZM1444.5 456.2L1447.5 453.7L1450.5 452.2L1453.5 450.9L1455.0 450.3L1455.0 465.7L1453.5 466.4L1450.5 467.7L1447.5 469.2L1444.5 471.7ZM1464.0 448.4L1467.0 448.8L1470.0 449.2L1470.0 449.2L1470.0 462.8L1470.0 462.8L1467.0 462.4L1464.0 462.1Z" fill="#000000" fill-opacity="0.72"/>
<path d="M1469.7 530.3L1479.2 530.3L1481.5 539.9L1472.0 539.9ZM1474.5 550.1L1484.0 550.1L1486.4 559.6L1476.9 559.6ZM1479.4 569.8L1488.9 569.8L1491.1 579.4L1481.6 579.4ZM1483.8 589.5L1493.3 589.5L1495.5 599.1L1486.0 599.1ZM1487.8 609.2L1497.3 609.2L1499.0 618.8L1489.5 618.8ZM1491.3 629.0L1500.8 629.0L1502.4 638.6L1492.9 638.6ZM1494.5 648.7L1504.0 648.7L1505.5 658.3L1496.0 658.3ZM1497.4 668.4L1506.9 668.4L1508.1 678.0L1498.6 678.0ZM1499.8 688.2L1509.3 688.2L1510.4 697.8L1500.9 697.8ZM1502.1 707.9L1511.6 707.9L1512.8 717.5L1503.3 717.5ZM1504.5 727.6L1514.0 727.6L1515.2 737.2L1505.7 737.2ZM1506.9 747.4L1516.4 747.4L1517.5 757.0L1508.0 757.0ZM1509.2 767.1L1518.7 767.1L1519.7 776.7L1510.2 776.7ZM1511.1 786.8L1520.6 786.8L1521.5 796.4L1512.0 796.4ZM1512.9 806.5L1522.4 806.5L1523.3 816.1L1513.8 816.1ZM1514.7 826.3L1524.2 826.3L1525.1 835.9L1515.6 835.9ZM1516.5 846.0L1526.0 846.0L1526.8 855.6L1517.3 855.6ZM1518.3 865.7L1527.8 865.7L1528.6 875.3L1519.1 875.3ZM1520.0 885.5L1529.5 885.5L1530.4 895.1L1520.9 895.1ZM1521.9 905.2L1531.4 905.2L1532.3 914.8L1522.8 914.8ZM1523.7 924.9L1533.2 924.9L1534.1 934.5L1524.6 934.5ZM1525.6 944.7L1535.1 944.7L1536.0 954.3L1526.5 954.3ZM1527.4 964.4L1536.9 964.4L1537.8 974.0L1528.3 974.0ZM1529.3 984.1L1538.8 984.1L1539.6 993.7L1530.1 993.7ZM1531.1 1003.8L1540.6 1003.8L1541.5 1013.4L1532.0 1013.4ZM1532.9 1023.6L1542.4 1023.6L1543.3 1033.2L1533.8 1033.2ZM1534.8 1043.3L1544.3 1043.3L1545.2 1052.9L1535.7 1052.9ZM1536.5 1063.0L1546.0 1063.0L1546.7 1072.6L1537.2 1072.6ZM1537.8 1082.8L1547.3 1082.8L1548.2 1092.4L1538.7 1092.4ZM1539.7 1102.5L1549.2 1102.5L1550.5 1112.1L1541.0 1112.1ZM1542.3 1122.2L1551.8 1122.2L1553.1 1131.8L1543.6 1131.8Z" fill="#009a46"/>
<path d="M1473.2 474.5L1486.9 474.5L1488.8 484.1L1475.1 484.1ZM1477.2 494.3L1490.9 494.3L1492.7 503.9L1479.0 503.9ZM1481.0 514.0L1494.7 514.0L1496.6 523.6L1482.9 523.6ZM1484.8 533.7L1498.5 533.7L1499.9 543.3L1486.2 543.3ZM1487.8 553.5L1501.5 553.5L1502.9 563.0L1489.2 563.0ZM1490.9 573.2L1504.6 573.2L1506.2 582.8L1492.5 582.8ZM1494.3 592.9L1508.0 592.9L1509.7 602.5L1496.0 602.5ZM1497.7 612.6L1511.4 612.6L1513.1 622.2L1499.4 622.2ZM1501.2 632.4L1514.9 632.4L1515.9 642.0L1502.2 642.0ZM1502.9 652.1L1516.6 652.1L1517.3 661.7L1503.6 661.7ZM1504.6 671.8L1518.3 671.8L1519.3 681.4L1505.6 681.4ZM1506.8 691.6L1520.5 691.6L1521.5 701.2L1507.8 701.2ZM1509.0 711.3L1522.7 711.3L1523.7 720.9L1510.0 720.9ZM1511.2 731.0L1524.9 731.0L1525.9 740.6L1512.2 740.6ZM1513.4 750.8L1527.1 750.8L1528.1 760.4L1514.4 760.4ZM1515.5 770.5L1529.2 770.5L1530.0 780.1L1516.3 780.1ZM1517.0 790.2L1530.7 790.2L1531.5 799.8L1517.8 799.8ZM1518.6 809.9L1532.3 809.9L1533.0 819.5L1519.3 819.5ZM1520.1 829.7L1533.8 829.7L1534.5 839.3L1520.8 839.3ZM1521.6 849.4L1535.3 849.4L1536.0 859.0L1522.3 859.0ZM1523.1 869.1L1536.8 869.1L1537.5 878.7L1523.8 878.7ZM1524.6 888.9L1538.3 888.9L1539.1 898.5L1525.4 898.5ZM1526.3 908.6L1540.0 908.6L1540.8 918.2L1527.1 918.2ZM1527.9 928.3L1541.6 928.3L1542.4 937.9L1528.7 937.9ZM1529.6 948.1L1543.3 948.1L1544.1 957.7L1530.4 957.7ZM1531.2 967.8L1544.9 967.8L1545.7 977.4L1532.0 977.4ZM1532.9 987.5L1546.6 987.5L1547.7 997.1L1534.0 997.1ZM1535.3 1007.2L1549.0 1007.2L1550.2 1016.8L1536.5 1016.8ZM1537.8 1027.0L1551.5 1027.0L1552.7 1036.6L1539.0 1036.6ZM1540.3 1046.7L1554.0 1046.7L1555.2 1056.3L1541.5 1056.3ZM1543.4 1066.4L1557.1 1066.4L1559.1 1076.0L1545.4 1076.0Z" fill="#000000"/>
</g>
<path d="M597.3 1183.2L601.3 1183.2L600.0 1167.2L598.6 1167.2ZM597.3 67.8L601.3 67.8L600.0 83.8L598.6 83.8ZM955.7 1183.2L959.7 1183.2L958.4 1167.2L957.0 1167.2ZM955.7 67.8L959.7 67.8L958.4 83.8L957.0 83.8ZM1311.2 1183.2L1315.2 1183.2L1313.9 1167.2L1312.5 1167.2ZM1311.2 67.8L1315.2 67.8L1313.9 83.8L1312.5 83.8ZM244.0 345.8L244.0 349.8L260.0 348.5L260.0 347.1ZM1668.6 345.8L1668.6 349.8L1652.6 348.5L1652.6 347.1ZM244.0 625.2L244.0 629.2L260.0 627.9L260.0 626.5ZM1668.6 625.2L1668.6 629.2L1652.6 627.9L1652.6 626.5ZM244.0 904.9L244.0 908.9L260.0 907.6L260.0 906.2ZM1668.6 904.9L1668.6 908.9L1652.6 907.6L1652.6 906.2ZM347.6 1183.2L351.6 1183.2L350.3 1172.7L348.9 1172.7ZM347.6 67.8L351.6 67.8L350.3 78.3L348.9 78.3ZM244.0 260.4L244.0 264.4L253.3 263.1L253.3 261.7ZM1668.6 260.4L1668.6 264.4L1659.3 263.1L1659.3 261.7ZM409.9 1183.2L413.9 1183.2L412.6 1172.7L411.2 1172.7ZM409.9 67.8L413.9 67.8L412.6 78.3L411.2 78.3ZM244.0 210.8L244.0 214.8L253.3 213.5L253.3 212.1ZM1668.6 210.8L1668.6 214.8L1659.3 213.5L1659.3 212.1ZM455.7 1183.2L459.7 1183.2L458.4 1172.7L457.0 1172.7ZM455.7 67.8L459.7 67.8L458.4 78.3L457.0 78.3ZM244.0 174.6L244.0 178.6L253.3 177.3L253.3 175.9ZM1668.6 174.6L1668.6 178.6L1659.3 177.3L1659.3 175.9ZM488.9 1183.2L492.9 1183.2L491.6 1172.7L490.2 1172.7ZM488.9 67.8L492.9 67.8L491.6 78.3L490.2 78.3ZM244.0 148.2L244.0 152.2L253.3 150.9L253.3 149.5ZM1668.6 148.2L1668.6 152.2L1659.3 150.9L1659.3 149.5ZM518.4 1183.2L522.4 1183.2L521.1 1172.7L519.7 1172.7ZM518.4 67.8L522.4 67.8L521.1 78.3L519.7 78.3ZM244.0 125.0L244.0 129.0L253.3 127.7L253.3 126.3ZM1668.6 125.0L1668.6 129.0L1659.3 127.7L1659.3 126.3ZM542.2 1183.2L546.2 1183.2L544.9 1172.7L543.5 1172.7ZM542.2 67.8L546.2 67.8L544.9 78.3L543.5 78.3ZM244.0 108.6L244.0 112.6L253.3 111.3L253.3 109.9ZM1668.6 108.6L1668.6 112.6L1659.3 111.3L1659.3 109.9ZM561.3 1183.2L565.3 1183.2L564.0 1172.7L562.6 1172.7ZM561.3 67.8L565.3 67.8L564.0 78.3L562.6 78.3ZM244.0 92.1L244.0 96.1L253.3 94.8L253.3 93.4ZM1668.6 92.1L1668.6 96.1L1659.3 94.8L1659.3 93.4ZM580.8 1183.2L584.8 1183.2L583.5 1172.7L582.1 1172.7ZM580.8 67.8L584.8 67.8L583.5 78.3L582.1 78.3ZM244.0 75.6L244.0 79.6L253.3 78.3L253.3 76.9ZM1668.6 75.6L1668.6 79.6L1659.3 78.3L1659.3 76.9ZM705.6 1183.2L709.6 1183.2L708.3 1172.7L706.9 1172.7ZM705.6 67.8L709.6 67.8L708.3 78.3L706.9 78.3ZM244.0 540.4L244.0 544.4L253.3 543.1L253.3 541.7ZM1668.6 540.4L1668.6 544.4L1659.3 543.1L1659.3 541.7ZM768.9 1183.2L772.9 1183.2L771.6 1172.7L770.2 1172.7ZM768.9 67.8L772.9 67.8L771.6 78.3L770.2 78.3ZM244.0 490.8L244.0 494.8L253.3 493.5L253.3 492.1ZM1668.6 490.8L1668.6 494.8L1659.3 493.5L1659.3 492.1ZM811.4 1183.2L815.4 1183.2L814.1 1172.7L812.7 1172.7ZM811.4 67.8L815.4 67.8L814.1 78.3L812.7 78.3ZM244.0 454.6L244.0 458.6L253.3 457.3L253.3 455.9ZM1668.6 454.6L1668.6 458.6L1659.3 457.3L1659.3 455.9ZM847.1 1183.2L851.1 1183.2L849.8 1172.7L848.4 1172.7ZM847.1 67.8L851.1 67.8L849.8 78.3L848.4 78.3ZM244.0 428.2L244.0 432.2L253.3 430.9L253.3 429.5ZM1668.6 428.2L1668.6 432.2L1659.3 430.9L1659.3 429.5ZM873.8 1183.2L877.8 1183.2L876.5 1172.7L875.1 1172.7ZM873.8 67.8L877.8 67.8L876.5 78.3L875.1 78.3ZM244.0 405.0L244.0 409.0L253.3 407.7L253.3 406.3ZM1668.6 405.0L1668.6 409.0L1659.3 407.7L1659.3 406.3ZM900.8 1183.2L904.8 1183.2L903.5 1172.7L902.1 1172.7ZM900.8 67.8L904.8 67.8L903.5 78.3L902.1 78.3ZM244.0 388.6L244.0 392.6L253.3 391.3L253.3 389.9ZM1668.6 388.6L1668.6 392.6L1659.3 391.3L1659.3 389.9ZM919.5 1183.2L923.5 1183.2L922.2 1172.7L920.8 1172.7ZM919.5 67.8L923.5 67.8L922.2 78.3L920.8 78.3ZM244.0 372.1L244.0 376.1L253.3 374.8L253.3 373.4ZM1668.6 372.1L1668.6 376.1L1659.3 374.8L1659.3 373.4ZM939.8 1183.2L943.8 1183.2L942.5 1172.7L941.1 1172.7ZM939.8 67.8L943.8 67.8L942.5 78.3L941.1 78.3ZM244.0 355.6L244.0 359.6L253.3 358.3L253.3 356.9ZM1668.6 355.6L1668.6 359.6L1659.3 358.3L1659.3 356.9ZM1061.3 1183.2L1065.3 1183.2L1064.0 1172.7L1062.6 1172.7ZM1061.3 67.8L1065.3 67.8L1064.0 78.3L1062.6 78.3ZM244.0 819.8L244.0 823.8L253.3 822.5L253.3 821.1ZM1668.6 819.8L1668.6 823.8L1659.3 822.5L1659.3 821.1ZM1123.6 1183.2L1127.6 1183.2L1126.3 1172.7L1124.9 1172.7ZM1123.6 67.8L1127.6 67.8L1126.3 78.3L1124.9 78.3ZM244.0 770.2L244.0 774.2L253.3 772.9L253.3 771.5ZM1668.6 770.2L1668.6 774.2L1659.3 772.9L1659.3 771.5ZM1169.4 1183.2L1173.4 1183.2L1172.1 1172.7L1170.7 1172.7ZM1169.4 67.8L1173.4 67.8L1172.1 78.3L1170.7 78.3ZM244.0 734.0L244.0 738.0L253.3 736.7L253.3 735.3ZM1668.6 734.0L1668.6 738.0L1659.3 736.7L1659.3 735.3ZM1202.6 1183.2L1206.6 1183.2L1205.3 1172.7L1203.9 1172.7ZM1202.6 67.8L1206.6 67.8L1205.3 78.3L1203.9 78.3ZM244.0 707.6L244.0 711.6L253.3 710.3L253.3 708.9ZM1668.6 707.6L1668.6 711.6L1659.3 710.3L1659.3 708.9ZM1232.1 1183.2L1236.1 1183.2L1234.8 1172.7L1233.4 1172.7ZM1232.1 67.8L1236.1 67.8L1234.8 78.3L1233.4 78.3ZM244.0 684.4L244.0 688.4L253.3 687.1L253.3 685.7ZM1668.6 684.4L1668.6 688.4L1659.3 687.1L1659.3 685.7ZM1255.9 1183.2L1259.9 1183.2L1258.6 1172.7L1257.2 1172.7ZM1255.9 67.8L1259.9 67.8L1258.6 78.3L1257.2 78.3ZM244.0 668.0L244.0 672.0L253.3 670.7L253.3 669.3ZM1668.6 668.0L1668.6 672.0L1659.3 670.7L1659.3 669.3ZM1275.0 1183.2L1279.0 1183.2L1277.7 1172.7L1276.3 1172.7ZM1275.0 67.8L1279.0 67.8L1277.7 78.3L1276.3 78.3ZM244.0 651.5L244.0 655.5L253.3 654.2L253.3 652.8ZM1668.6 651.5L1668.6 655.5L1659.3 654.2L1659.3 652.8ZM1294.5 1183.2L1298.5 1183.2L1297.2 1172.7L1295.8 1172.7ZM1294.5 67.8L1298.5 67.8L1297.2 78.3L1295.8 78.3ZM244.0 635.0L244.0 639.0L253.3 637.7L253.3 636.3ZM1668.6 635.0L1668.6 639.0L1659.3 637.7L1659.3 636.3ZM1419.2 1183.2L1423.2 1183.2L1421.9 1172.7L1420.5 1172.7ZM1419.2 67.8L1423.2 67.8L1421.9 78.3L1420.5 78.3ZM244.0 1099.5L244.0 1103.5L253.3 1102.2L253.3 1100.8ZM1668.6 1099.5L1668.6 1103.5L1659.3 1102.2L1659.3 1100.8ZM1482.2 1183.2L1486.2 1183.2L1484.9 1172.7L1483.5 1172.7ZM1482.2 67.8L1486.2 67.8L1484.9 78.3L1483.5 78.3ZM244.0 1049.9L244.0 1053.9L253.3 1052.6L253.3 1051.2ZM1668.6 1049.9L1668.6 1053.9L1659.3 1052.6L1659.3 1051.2ZM1524.7 1183.2L1528.7 1183.2L1527.4 1172.7L1526.0 1172.7ZM1524.7 67.8L1528.7 67.8L1527.4 78.3L1526.0 78.3ZM244.0 1013.7L244.0 1017.7L253.3 1016.4L253.3 1015.0ZM1668.6 1013.7L1668.6 1017.7L1659.3 1016.4L1659.3 1015.0ZM1561.7 1183.2L1565.7 1183.2L1564.4 1172.7L1563.0 1172.7ZM1561.7 67.8L1565.7 67.8L1564.4 78.3L1563.0 78.3ZM244.0 987.3L244.0 991.3L253.3 990.0L253.3 988.6ZM1668.6 987.3L1668.6 991.3L1659.3 990.0L1659.3 988.6ZM1587.3 1183.2L1591.3 1183.2L1590.0 1172.7L1588.6 1172.7ZM1587.3 67.8L1591.3 67.8L1590.0 78.3L1588.6 78.3ZM244.0 964.1L244.0 968.1L253.3 966.8L253.3 965.4ZM1668.6 964.1L1668.6 968.1L1659.3 966.8L1659.3 965.4ZM1613.7 1183.2L1617.7 1183.2L1616.4 1172.7L1615.0 1172.7ZM1613.7 67.8L1617.7 67.8L1616.4 78.3L1615.0 78.3ZM244.0 947.7L244.0 951.7L253.3 950.4L253.3 949.0ZM1668.6 947.7L1668.6 951.7L1659.3 950.4L1659.3 949.0ZM1633.6 1183.2L1637.6 1183.2L1636.3 1172.7L1634.9 1172.7ZM1633.6 67.8L1637.6 67.8L1636.3 78.3L1634.9 78.3ZM244.0 931.2L244.0 935.2L253.3 933.9L253.3 932.5ZM1668.6 931.2L1668.6 935.2L1659.3 933.9L1659.3 932.5ZM1653.2 1183.2L1657.2 1183.2L1655.9 1172.7L1654.5 1172.7ZM1653.2 67.8L1657.2 67.8L1655.9 78.3L1654.5 78.3ZM244.0 914.7L244.0 918.7L253.3 917.4L253.3 916.0ZM1668.6 914.7L1668.6 918.7L1659.3 917.4L1659.3 916.0Z" fill="#161616"/>
<rect x="244.0" y="67.8" width="1424.6" height="1115.4" stroke="#161616" stroke-width="4.0" fill="none"/>
<rect x="1451.5" y="95" width="190.5" height="281.8" fill="#fff" stroke="#161616" stroke-width="3.9"/>
<path d="M1463 133.5H1564.8" stroke="#0000ff" stroke-width="10" fill="none"/>
<path d="M1463 202.5H1564.8" stroke="#009a46" stroke-width="10" fill="none"/>
<path d="M1463 269H1564.8" stroke="#ff8000" stroke-width="10" fill="none"/>
<path d="M1463 337.5H1564.8" stroke="#000000" stroke-width="10" fill="none"/>
<g font-family="'Liberation Serif', serif" fill="#222222" stroke="#222222" stroke-width="0.6" font-size="54.5">
<text x="1571.5" y="144.8" textLength="58" lengthAdjust="spacingAndGlyphs">xx</text>
<text x="1571.5" y="214.2" textLength="57.5" lengthAdjust="spacingAndGlyphs">yy</text>
<text x="1571.5" y="282.6" textLength="50" lengthAdjust="spacingAndGlyphs">zz</text>
<text x="1571.5" y="352.0" textLength="54" lengthAdjust="spacingAndGlyphs">xz</text>
</g>
<g font-family="'Liberation Serif', serif" fill="#222222">
<text x="185.2" y="1247.5" font-size="57" textLength="59" lengthAdjust="spacingAndGlyphs">10</text><text x="244.2" y="1230.9" font-size="37" fill="#a8a8a8" stroke="#a8a8a8" stroke-width="2.4" textLength="26" lengthAdjust="spacingAndGlyphs">−</text><text x="272.7" y="1228.1" font-size="39.5" textLength="19.5" lengthAdjust="spacingAndGlyphs">4</text>
<text x="540.5" y="1247.5" font-size="57" textLength="59" lengthAdjust="spacingAndGlyphs">10</text><text x="599.5" y="1230.9" font-size="37" fill="#a8a8a8" stroke="#a8a8a8" stroke-width="2.4" textLength="26" lengthAdjust="spacingAndGlyphs">−</text><text x="628.0" y="1228.1" font-size="39.5" textLength="19.5" lengthAdjust="spacingAndGlyphs">3</text>
<text x="898.9" y="1247.5" font-size="57" textLength="59" lengthAdjust="spacingAndGlyphs">10</text><text x="957.9" y="1230.9" font-size="37" fill="#a8a8a8" stroke="#a8a8a8" stroke-width="2.4" textLength="26" lengthAdjust="spacingAndGlyphs">−</text><text x="986.4" y="1228.1" font-size="39.5" textLength="19.5" lengthAdjust="spacingAndGlyphs">2</text>
<text x="1254.4" y="1247.5" font-size="57" textLength="59" lengthAdjust="spacingAndGlyphs">10</text><text x="1313.4" y="1230.9" font-size="37" fill="#a8a8a8" stroke="#a8a8a8" stroke-width="2.4" textLength="26" lengthAdjust="spacingAndGlyphs">−</text><text x="1341.9" y="1228.1" font-size="39.5" textLength="19.5" lengthAdjust="spacingAndGlyphs">1</text>
<text x="1629.2" y="1247.5" font-size="57" textLength="59" lengthAdjust="spacingAndGlyphs">10</text><text x="1688.2" y="1228.1" font-size="39.5" textLength="19" lengthAdjust="spacingAndGlyphs">0</text>
<text x="146.1" y="80.3" font-size="57" textLength="59" lengthAdjust="spacingAndGlyphs">10</text><text x="205.1" y="60.9" font-size="39.5" textLength="19" lengthAdjust="spacingAndGlyphs">3</text>
<text x="146.1" y="360.3" font-size="57" textLength="59" lengthAdjust="spacingAndGlyphs">10</text><text x="205.1" y="340.9" font-size="39.5" textLength="19" lengthAdjust="spacingAndGlyphs">2</text>
<text x="146.1" y="639.7" font-size="57" textLength="59" lengthAdjust="spacingAndGlyphs">10</text><text x="205.1" y="620.3" font-size="39.5" textLength="19" lengthAdjust="spacingAndGlyphs">1</text>
<text x="146.1" y="919.4" font-size="57" textLength="59" lengthAdjust="spacingAndGlyphs">10</text><text x="205.1" y="900.0" font-size="39.5" textLength="19" lengthAdjust="spacingAndGlyphs">0</text>
<text x="116.4" y="1197.7" font-size="57" textLength="59" lengthAdjust="spacingAndGlyphs">10</text><text x="175.4" y="1181.1" font-size="37" fill="#a8a8a8" stroke="#a8a8a8" stroke-width="2.4" textLength="26" lengthAdjust="spacingAndGlyphs">−</text><text x="203.9" y="1178.3" font-size="39.5" textLength="19.5" lengthAdjust="spacingAndGlyphs">1</text>
<text x="736" y="1326.5" font-size="63.5" textLength="441" lengthAdjust="spacingAndGlyphs">Frequency in Hz</text>
<g transform="translate(85,888.5) rotate(-90)">
<text x="-2.4" y="5.5" font-size="75" textLength="52" lengthAdjust="spacingAndGlyphs">√</text>
<text x="51" y="0" font-size="63" textLength="120" lengthAdjust="spacingAndGlyphs">PSD</text>
<text x="215" y="0" font-size="63" textLength="61" lengthAdjust="spacingAndGlyphs">in</text>
<text x="291" y="0" font-size="63" textLength="78" lengthAdjust="spacingAndGlyphs">mE</text>
<text x="379" y="15" font-size="86" textLength="26" lengthAdjust="spacingAndGlyphs">/</text>
<text x="411" y="5.5" font-size="75" textLength="52" lengthAdjust="spacingAndGlyphs">√</text>
<text x="462" y="0" font-size="63" textLength="70" lengthAdjust="spacingAndGlyphs">Hz</text>
<path d="M49 -54H171M462 -54H532" stroke="#8a8a8a" stroke-width="3" fill="none"/>
</g>
</g>
</g>
</svg>
</body>
</html>
